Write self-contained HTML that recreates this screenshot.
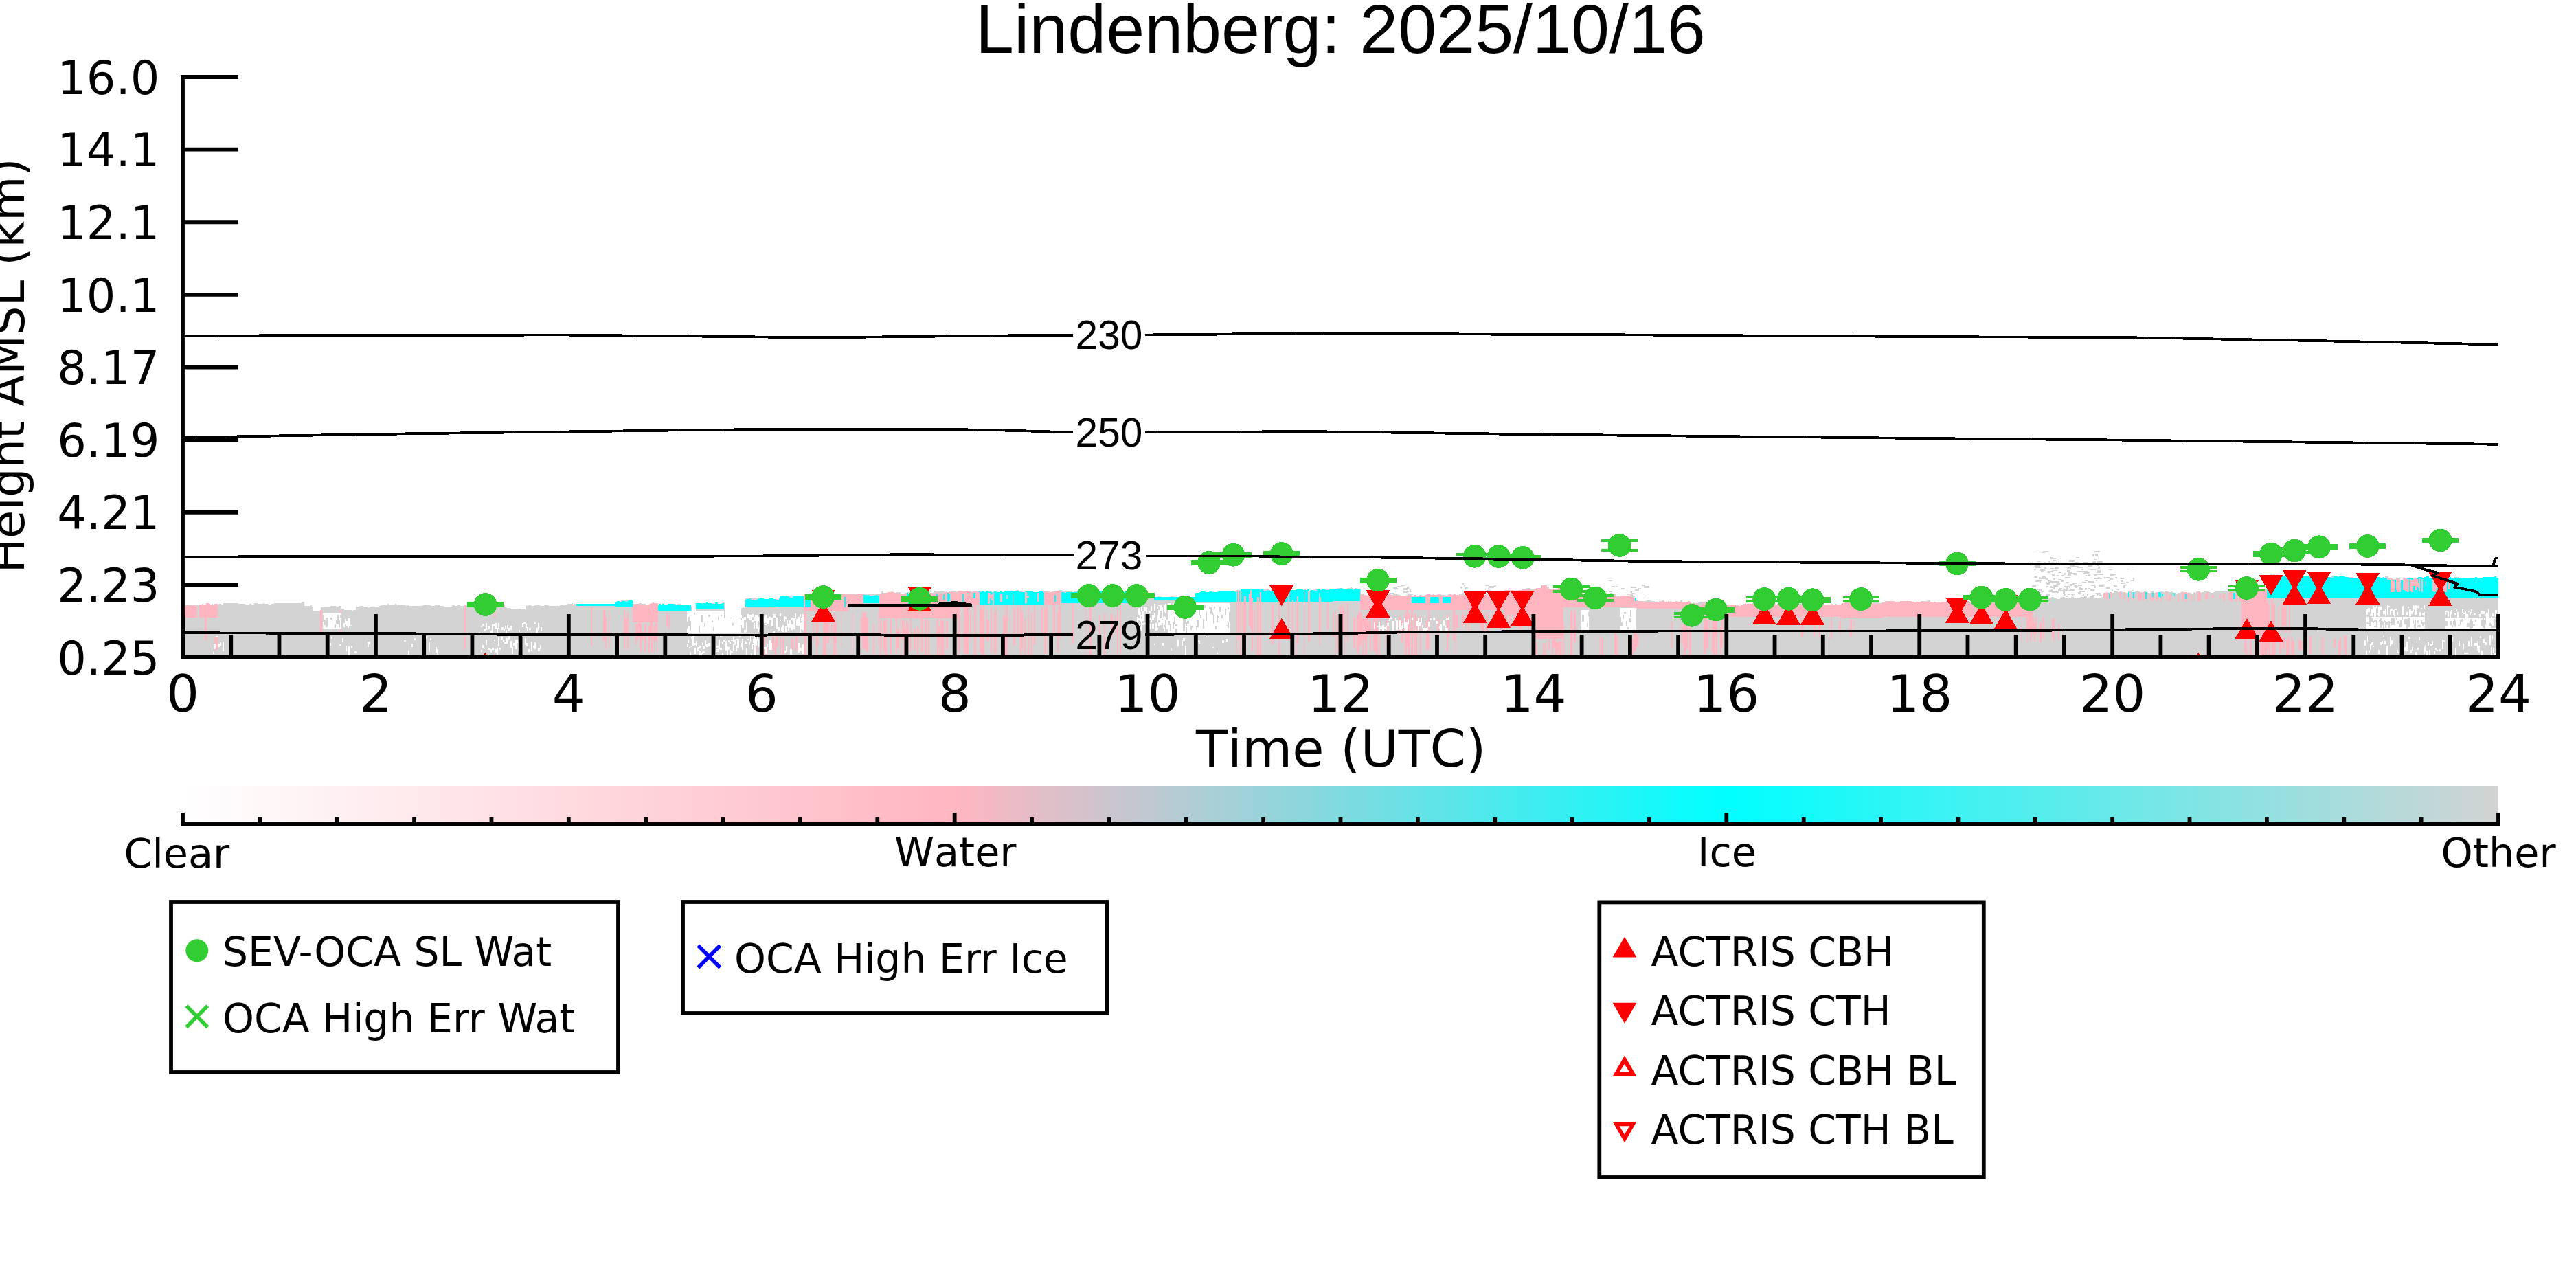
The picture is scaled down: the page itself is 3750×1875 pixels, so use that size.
<!DOCTYPE html>
<html><head><meta charset="utf-8"><title>Lindenberg: 2025/10/16</title>
<style>html,body{margin:0;padding:0;background:#fff;overflow:hidden}svg{display:block}text{font-kerning:none}</style>
</head><body>
<svg width="3750" height="1875" viewBox="0 0 3750 1875">
<rect width="3750" height="1875" fill="#fff"/>
<text x="1420" y="77" font-family="'Liberation Sans', Arial, sans-serif" font-size="100.6">Lindenberg: 2025/10/16</text>
<defs><clipPath id="axclip"><rect x="266" y="112" width="3371" height="845"/></clipPath></defs>
<g clip-path="url(#axclip)" shape-rendering="crispEdges">
<path d="M266,880 L268,880 L268,880 L271,880 L271,880 L274,880 L274,881 L276,881 L276,881 L282,881 L282,880 L288,880 L288,881 L290,881 L290,882 L292,882 L292,882 L294,882 L294,882 L296,882 L296,881 L302,881 L302,880 L308,880 L308,879 L310,879 L310,881 L312,881 L312,881 L316,881 L316,880 L318,880 L318,879 L320,879 L320,879 L322,879 L322,880 L325,880 L325,878 L329,878 L329,878 L333,878 L333,878 L337,878 L337,878 L343,878 L343,878 L347,878 L347,879 L351,879 L351,879 L357,879 L357,880 L363,880 L363,879 L366,879 L366,880 L368,880 L368,880 L370,880 L370,878 L376,878 L376,879 L380,879 L380,879 L383,879 L383,878 L385,878 L385,879 L387,879 L387,879 L391,879 L391,880 L395,880 L395,879 L399,879 L399,878 L402,878 L402,878 L408,878 L408,878 L414,878 L414,878 L416,878 L416,878 L418,878 L418,878 L421,878 L421,878 L427,878 L427,878 L433,878 L433,878 L435,878 L435,878 L439,878 L439,876 L443,876 L443,882 L446,882 L446,882 L452,882 L452,881 L454,881 L454,883 L456,883 L456,890 L459,890 L459,890 L461,890 L461,890 L467,890 L467,884 L469,884 L469,884 L471,884 L471,884 L475,884 L475,884 L481,884 L481,882 L487,882 L487,882 L489,882 L489,884 L493,884 L493,882 L497,882 L497,886 L501,886 L501,888 L503,888 L503,888 L505,888 L505,888 L509,888 L509,888 L512,888 L512,890 L514,890 L514,888 L518,888 L518,883 L520,883 L520,883 L523,883 L523,882 L529,882 L529,884 L535,884 L535,885 L537,885 L537,884 L539,884 L539,883 L543,883 L543,883 L546,883 L546,884 L552,884 L552,882 L554,882 L554,881 L558,881 L558,881 L564,881 L564,879 L566,879 L566,880 L569,880 L569,880 L572,880 L572,880 L575,880 L575,879 L577,879 L577,881 L579,881 L579,881 L581,881 L581,881 L587,881 L587,881 L591,881 L591,882 L593,882 L593,881 L595,881 L595,882 L599,882 L599,882 L605,882 L605,882 L609,882 L609,882 L615,882 L615,881 L618,881 L618,880 L622,880 L622,880 L625,880 L625,881 L627,881 L627,882 L633,882 L633,880 L636,880 L636,881 L640,881 L640,882 L646,882 L646,883 L648,883 L648,883 L652,883 L652,883 L658,883 L658,881 L662,881 L662,882 L666,882 L666,881 L669,881 L669,882 L675,882 L675,882 L677,882 L677,882 L679,882 L679,881 L683,881 L683,880 L685,880 L685,880 L691,880 L691,881 L697,881 L697,881 L703,881 L703,881 L705,881 L705,881 L707,881 L707,880 L709,880 L709,882 L715,882 L715,881 L717,881 L717,881 L721,881 L721,882 L723,882 L723,883 L727,883 L727,883 L729,883 L729,881 L731,881 L731,880 L735,880 L735,884 L737,884 L737,885 L743,885 L743,886 L745,886 L745,886 L751,886 L751,886 L753,886 L753,886 L755,886 L755,886 L759,886 L759,887 L765,887 L765,881 L767,881 L767,882 L769,882 L769,881 L773,881 L773,882 L776,882 L776,882 L778,882 L778,881 L784,881 L784,881 L786,881 L786,882 L792,882 L792,880 L795,880 L795,881 L797,881 L797,881 L799,881 L799,882 L801,882 L801,882 L804,882 L804,882 L807,882 L807,882 L809,882 L809,882 L815,882 L815,880 L817,880 L817,880 L819,880 L819,881 L823,881 L823,880 L826,880 L826,879 L832,879 L832,878 L834,878 L834,880 L836,880 L836,879 L838,879 L838,880 L842,880 L842,881 L848,881 L848,880 L851,880 L851,879 L857,879 L857,881 L859,881 L859,881 L862,881 L862,881 L868,881 L868,879 L871,879 L871,879 L875,879 L875,879 L878,879 L878,879 L884,879 L884,879 L890,879 L890,881 L896,881 L896,877 L902,877 L902,875 L904,875 L904,874 L906,874 L906,874 L910,874 L910,873 L912,873 L912,873 L914,873 L914,874 L916,874 L916,876 L918,876 L918,877 L920,877 L920,876 L922,876 L922,879 L928,879 L928,879 L930,879 L930,878 L932,878 L932,878 L934,878 L934,879 L940,879 L940,880 L943,880 L943,880 L947,880 L947,879 L950,879 L950,877 L952,877 L952,880 L955,880 L955,880 L958,880 L958,882 L960,882 L960,880 L962,880 L962,880 L964,880 L964,878 L967,878 L967,881 L970,881 L970,881 L973,881 L973,881 L979,881 L979,881 L981,881 L981,879 L984,879 L984,881 L986,881 L986,879 L992,879 L992,880 L994,880 L994,880 L996,880 L996,880 L1000,880 L1000,880 L1004,880 L1004,882 L1007,882 L1007,890 L1011,890 L1011,891 L1013,891 L1013,878 L1017,878 L1017,879 L1021,879 L1021,878 L1027,878 L1027,878 L1029,878 L1029,879 L1032,879 L1032,878 L1036,878 L1036,878 L1040,878 L1040,879 L1042,879 L1042,879 L1044,879 L1044,879 L1050,879 L1050,878 L1052,878 L1052,877 L1055,877 L1055,900 L1057,900 L1057,901 L1059,901 L1059,901 L1063,901 L1063,899 L1065,899 L1065,900 L1067,900 L1067,900 L1071,900 L1071,899 L1075,899 L1075,899 L1079,899 L1079,885 L1081,885 L1081,884 L1083,884 L1083,885 L1085,885 L1085,871 L1089,871 L1089,871 L1091,871 L1091,871 L1097,871 L1097,870 L1100,870 L1100,871 L1106,871 L1106,872 L1108,872 L1108,873 L1111,873 L1111,872 L1113,872 L1113,873 L1117,873 L1117,872 L1120,872 L1120,872 L1124,872 L1124,873 L1128,873 L1128,872 L1132,872 L1132,873 L1138,873 L1138,870 L1140,870 L1140,871 L1142,871 L1142,869 L1146,869 L1146,869 L1148,869 L1148,868 L1150,868 L1150,868 L1153,868 L1153,870 L1155,870 L1155,870 L1158,870 L1158,871 L1162,871 L1162,870 L1164,870 L1164,871 L1167,871 L1167,870 L1171,870 L1171,866 L1173,866 L1173,865 L1176,865 L1176,864 L1179,864 L1179,865 L1181,865 L1181,866 L1187,866 L1187,865 L1190,865 L1190,865 L1192,865 L1192,866 L1196,866 L1196,867 L1202,867 L1202,867 L1206,867 L1206,866 L1210,866 L1210,866 L1213,866 L1213,864 L1216,864 L1216,865 L1218,865 L1218,865 L1224,865 L1224,865 L1230,865 L1230,864 L1236,864 L1236,864 L1242,864 L1242,864 L1244,864 L1244,865 L1250,865 L1250,864 L1254,864 L1254,865 L1256,865 L1256,864 L1258,864 L1258,865 L1264,865 L1264,864 L1268,864 L1268,865 L1270,865 L1270,865 L1276,865 L1276,864 L1282,864 L1282,861 L1285,861 L1285,863 L1287,863 L1287,863 L1289,863 L1289,863 L1291,863 L1291,862 L1297,862 L1297,861 L1299,861 L1299,863 L1303,863 L1303,863 L1305,863 L1305,862 L1311,862 L1311,864 L1317,864 L1317,863 L1319,863 L1319,863 L1321,863 L1321,862 L1325,862 L1325,862 L1329,862 L1329,862 L1331,862 L1331,863 L1333,863 L1333,862 L1336,862 L1336,862 L1339,862 L1339,863 L1343,863 L1343,862 L1347,862 L1347,862 L1349,862 L1349,862 L1351,862 L1351,862 L1354,862 L1354,863 L1356,863 L1356,863 L1360,863 L1360,860 L1362,860 L1362,861 L1365,861 L1365,861 L1367,861 L1367,861 L1369,861 L1369,861 L1375,861 L1375,862 L1377,862 L1377,861 L1379,861 L1379,862 L1381,862 L1381,861 L1383,861 L1383,861 L1386,861 L1386,861 L1392,861 L1392,861 L1394,861 L1394,860 L1398,860 L1398,861 L1402,861 L1402,861 L1405,861 L1405,860 L1409,860 L1409,861 L1411,861 L1411,860 L1413,860 L1413,861 L1419,861 L1419,861 L1422,861 L1422,863 L1425,863 L1425,861 L1431,861 L1431,862 L1435,862 L1435,860 L1441,860 L1441,860 L1444,860 L1444,862 L1446,862 L1446,860 L1450,860 L1450,860 L1452,860 L1452,861 L1454,861 L1454,862 L1456,862 L1456,861 L1458,861 L1458,862 L1462,862 L1462,862 L1465,862 L1465,861 L1467,861 L1467,861 L1471,861 L1471,862 L1477,862 L1477,860 L1479,860 L1479,859 L1483,859 L1483,861 L1486,861 L1486,861 L1489,861 L1489,862 L1493,862 L1493,862 L1499,862 L1499,863 L1503,863 L1503,861 L1505,861 L1505,862 L1507,862 L1507,863 L1513,863 L1513,861 L1516,861 L1516,861 L1522,861 L1522,861 L1525,861 L1525,862 L1531,862 L1531,861 L1533,861 L1533,861 L1535,861 L1535,860 L1541,860 L1541,859 L1544,859 L1544,859 L1546,859 L1546,860 L1549,860 L1549,861 L1553,861 L1553,861 L1559,861 L1559,860 L1561,860 L1561,863 L1563,863 L1563,861 L1565,861 L1565,861 L1568,861 L1568,861 L1571,861 L1571,863 L1575,863 L1575,862 L1581,862 L1581,861 L1585,861 L1585,862 L1587,862 L1587,863 L1590,863 L1590,864 L1592,864 L1592,864 L1594,864 L1594,863 L1600,863 L1600,862 L1606,862 L1606,862 L1608,862 L1608,862 L1612,862 L1612,863 L1614,863 L1614,862 L1616,862 L1616,862 L1618,862 L1618,863 L1621,863 L1621,863 L1623,863 L1623,864 L1625,864 L1625,862 L1631,862 L1631,863 L1633,863 L1633,862 L1639,862 L1639,861 L1641,861 L1641,860 L1643,860 L1643,860 L1647,860 L1647,861 L1649,861 L1649,862 L1651,862 L1651,869 L1655,869 L1655,871 L1657,871 L1657,871 L1659,871 L1659,871 L1665,871 L1665,872 L1671,872 L1671,870 L1674,870 L1674,871 L1680,871 L1680,870 L1683,870 L1683,869 L1685,869 L1685,868 L1687,868 L1687,868 L1690,868 L1690,869 L1696,869 L1696,869 L1700,869 L1700,870 L1703,870 L1703,868 L1709,868 L1709,869 L1715,869 L1715,869 L1717,869 L1717,868 L1721,868 L1721,869 L1727,869 L1727,869 L1733,869 L1733,869 L1735,869 L1735,870 L1741,870 L1741,863 L1744,863 L1744,863 L1750,863 L1750,863 L1756,863 L1756,863 L1758,863 L1758,864 L1761,864 L1761,863 L1763,863 L1763,864 L1766,864 L1766,861 L1768,861 L1768,862 L1771,862 L1771,863 L1774,863 L1774,863 L1778,863 L1778,863 L1781,863 L1781,863 L1784,863 L1784,861 L1787,861 L1787,861 L1793,861 L1793,860 L1796,860 L1796,862 L1798,862 L1798,861 L1800,861 L1800,859 L1806,859 L1806,858 L1810,858 L1810,859 L1812,859 L1812,860 L1818,860 L1818,860 L1820,860 L1820,859 L1824,859 L1824,858 L1827,858 L1827,857 L1831,857 L1831,857 L1837,857 L1837,858 L1839,858 L1839,858 L1842,858 L1842,858 L1844,858 L1844,857 L1846,857 L1846,858 L1848,858 L1848,859 L1851,859 L1851,859 L1857,859 L1857,860 L1861,860 L1861,859 L1867,859 L1867,859 L1869,859 L1869,860 L1871,860 L1871,859 L1877,859 L1877,860 L1879,860 L1879,859 L1883,859 L1883,860 L1889,860 L1889,859 L1893,859 L1893,860 L1896,860 L1896,859 L1898,859 L1898,858 L1901,858 L1901,860 L1903,860 L1903,860 L1907,860 L1907,859 L1913,859 L1913,858 L1915,858 L1915,857 L1917,857 L1917,858 L1923,858 L1923,859 L1927,859 L1927,858 L1929,858 L1929,857 L1931,857 L1931,857 L1934,857 L1934,857 L1936,857 L1936,858 L1942,858 L1942,857 L1944,857 L1944,858 L1946,858 L1946,856 L1952,856 L1952,856 L1955,856 L1955,857 L1961,857 L1961,856 L1963,856 L1963,856 L1966,856 L1966,855 L1968,855 L1968,856 L1970,856 L1970,857 L1972,857 L1972,856 L1975,856 L1975,857 L1981,857 L1981,865 L1984,865 L1984,864 L1986,864 L1986,866 L1990,866 L1990,867 L1992,867 L1992,868 L1994,868 L1994,868 L1996,868 L1996,868 L1998,868 L1998,868 L2001,868 L2001,866 L2003,866 L2003,867 L2007,867 L2007,866 L2010,866 L2010,866 L2012,866 L2012,865 L2015,865 L2015,866 L2017,866 L2017,865 L2019,865 L2019,865 L2023,865 L2023,864 L2025,864 L2025,866 L2029,866 L2029,867 L2032,867 L2032,867 L2035,867 L2035,866 L2039,866 L2039,867 L2041,867 L2041,867 L2047,867 L2047,866 L2050,866 L2050,866 L2052,866 L2052,866 L2055,866 L2055,867 L2058,867 L2058,867 L2062,867 L2062,867 L2065,867 L2065,867 L2068,867 L2068,866 L2070,866 L2070,867 L2073,867 L2073,867 L2075,867 L2075,866 L2078,866 L2078,866 L2084,866 L2084,867 L2086,867 L2086,865 L2088,865 L2088,866 L2092,866 L2092,865 L2096,865 L2096,864 L2098,864 L2098,866 L2101,866 L2101,866 L2105,866 L2105,867 L2111,867 L2111,868 L2113,868 L2113,866 L2115,866 L2115,866 L2121,866 L2121,866 L2124,866 L2124,864 L2126,864 L2126,865 L2128,865 L2128,865 L2132,865 L2132,865 L2138,865 L2138,865 L2142,865 L2142,865 L2145,865 L2145,866 L2147,866 L2147,866 L2149,866 L2149,866 L2153,866 L2153,867 L2155,867 L2155,867 L2157,867 L2157,868 L2159,868 L2159,867 L2163,867 L2163,865 L2165,865 L2165,864 L2168,864 L2168,865 L2171,865 L2171,864 L2175,864 L2175,866 L2177,866 L2177,865 L2183,865 L2183,864 L2187,864 L2187,865 L2189,865 L2189,865 L2195,865 L2195,861 L2199,861 L2199,859 L2201,859 L2201,861 L2207,861 L2207,861 L2209,861 L2209,860 L2213,860 L2213,859 L2215,859 L2215,859 L2217,859 L2217,858 L2220,858 L2220,857 L2222,857 L2222,856 L2225,856 L2225,856 L2228,856 L2228,858 L2232,858 L2232,858 L2238,858 L2238,858 L2244,858 L2244,857 L2247,857 L2247,853 L2249,853 L2249,853 L2251,853 L2251,854 L2255,854 L2255,857 L2257,857 L2257,857 L2261,857 L2261,858 L2263,858 L2263,859 L2265,859 L2265,859 L2267,859 L2267,859 L2269,859 L2269,858 L2273,858 L2273,858 L2275,858 L2275,868 L2277,868 L2277,868 L2279,868 L2279,868 L2281,868 L2281,867 L2283,867 L2283,869 L2285,869 L2285,870 L2291,870 L2291,869 L2297,869 L2297,870 L2301,870 L2301,869 L2303,869 L2303,868 L2305,868 L2305,868 L2307,868 L2307,868 L2311,868 L2311,869 L2313,869 L2313,868 L2317,868 L2317,867 L2319,867 L2319,869 L2321,869 L2321,867 L2325,867 L2325,869 L2331,869 L2331,870 L2337,870 L2337,869 L2341,869 L2341,868 L2343,868 L2343,867 L2346,867 L2346,867 L2352,867 L2352,869 L2354,869 L2354,869 L2356,869 L2356,867 L2360,867 L2360,868 L2364,868 L2364,867 L2367,867 L2367,869 L2369,869 L2369,869 L2372,869 L2372,867 L2374,867 L2374,868 L2376,868 L2376,868 L2378,868 L2378,869 L2380,869 L2380,874 L2382,874 L2382,873 L2384,873 L2384,875 L2386,875 L2386,875 L2389,875 L2389,875 L2395,875 L2395,875 L2397,875 L2397,874 L2403,874 L2403,875 L2409,875 L2409,876 L2413,876 L2413,877 L2415,877 L2415,875 L2419,875 L2419,874 L2421,874 L2421,874 L2423,874 L2423,876 L2425,876 L2425,876 L2429,876 L2429,876 L2431,876 L2431,875 L2433,875 L2433,876 L2439,876 L2439,875 L2442,875 L2442,876 L2446,876 L2446,874 L2449,874 L2449,876 L2455,876 L2455,876 L2461,876 L2461,878 L2464,878 L2464,877 L2466,877 L2466,878 L2472,878 L2472,877 L2474,877 L2474,876 L2478,876 L2478,876 L2482,876 L2482,876 L2484,876 L2484,878 L2487,878 L2487,879 L2491,879 L2491,879 L2497,879 L2497,879 L2499,879 L2499,877 L2505,877 L2505,879 L2511,879 L2511,880 L2514,880 L2514,880 L2516,880 L2516,881 L2518,881 L2518,882 L2524,882 L2524,881 L2527,881 L2527,881 L2529,881 L2529,882 L2535,882 L2535,880 L2537,880 L2537,879 L2543,879 L2543,879 L2549,879 L2549,879 L2551,879 L2551,878 L2554,878 L2554,879 L2557,879 L2557,880 L2560,880 L2560,881 L2562,881 L2562,880 L2565,880 L2565,879 L2567,879 L2567,881 L2571,881 L2571,881 L2573,881 L2573,879 L2575,879 L2575,880 L2579,880 L2579,880 L2581,880 L2581,880 L2587,880 L2587,880 L2593,880 L2593,881 L2596,881 L2596,879 L2598,879 L2598,881 L2601,881 L2601,880 L2603,880 L2603,879 L2605,879 L2605,880 L2609,880 L2609,879 L2611,879 L2611,880 L2615,880 L2615,881 L2617,881 L2617,879 L2623,879 L2623,880 L2626,880 L2626,880 L2628,880 L2628,879 L2634,879 L2634,879 L2640,879 L2640,880 L2642,880 L2642,879 L2644,879 L2644,881 L2646,881 L2646,880 L2652,880 L2652,878 L2654,878 L2654,879 L2656,879 L2656,880 L2658,880 L2658,880 L2661,880 L2661,880 L2665,880 L2665,879 L2667,879 L2667,879 L2669,879 L2669,880 L2671,880 L2671,879 L2674,879 L2674,880 L2676,880 L2676,881 L2678,881 L2678,880 L2681,880 L2681,879 L2687,879 L2687,877 L2689,877 L2689,878 L2695,878 L2695,877 L2698,877 L2698,878 L2702,878 L2702,877 L2705,877 L2705,877 L2707,877 L2707,876 L2713,876 L2713,876 L2717,876 L2717,877 L2720,877 L2720,878 L2726,878 L2726,877 L2729,877 L2729,877 L2732,877 L2732,877 L2734,877 L2734,876 L2736,876 L2736,878 L2738,878 L2738,877 L2741,877 L2741,877 L2744,877 L2744,875 L2750,875 L2750,877 L2752,877 L2752,876 L2756,876 L2756,877 L2758,877 L2758,877 L2764,877 L2764,877 L2766,877 L2766,877 L2768,877 L2768,877 L2771,877 L2771,876 L2773,876 L2773,877 L2779,877 L2779,876 L2782,876 L2782,877 L2784,877 L2784,878 L2788,878 L2788,877 L2791,877 L2791,877 L2794,877 L2794,876 L2796,876 L2796,875 L2802,875 L2802,875 L2804,875 L2804,875 L2806,875 L2806,874 L2810,874 L2810,876 L2814,876 L2814,877 L2816,877 L2816,877 L2818,877 L2818,877 L2820,877 L2820,878 L2826,878 L2826,876 L2828,876 L2828,876 L2834,876 L2834,877 L2840,877 L2840,876 L2843,876 L2843,876 L2846,876 L2846,875 L2849,875 L2849,876 L2852,876 L2852,875 L2856,875 L2856,877 L2858,877 L2858,875 L2860,875 L2860,876 L2862,876 L2862,876 L2865,876 L2865,876 L2871,876 L2871,875 L2877,875 L2877,876 L2883,876 L2883,875 L2887,875 L2887,876 L2890,876 L2890,876 L2893,876 L2893,877 L2896,877 L2896,878 L2898,878 L2898,876 L2900,876 L2900,876 L2902,876 L2902,876 L2906,876 L2906,877 L2910,877 L2910,876 L2916,876 L2916,875 L2920,875 L2920,876 L2926,876 L2926,875 L2928,875 L2928,877 L2932,877 L2932,876 L2938,876 L2938,877 L2942,877 L2942,876 L2944,876 L2944,875 L2946,875 L2946,874 L2952,874 L2952,875 L2955,875 L2955,871 L2961,871 L2961,871 L2965,871 L2965,870 L2967,870 L2967,868 L2969,868 L2969,868 L2971,868 L2971,870 L2973,870 L2973,870 L2975,870 L2975,871 L2977,871 L2977,871 L2981,871 L2981,871 L2984,871 L2984,870 L2986,870 L2986,869 L2990,869 L2990,870 L2992,870 L2992,871 L2994,871 L2994,872 L2996,872 L2996,872 L2999,872 L2999,870 L3001,870 L3001,869 L3005,869 L3005,870 L3011,870 L3011,870 L3013,870 L3013,871 L3015,871 L3015,869 L3019,869 L3019,871 L3023,871 L3023,870 L3025,870 L3025,870 L3028,870 L3028,869 L3031,869 L3031,869 L3034,869 L3034,870 L3037,870 L3037,871 L3039,871 L3039,869 L3041,869 L3041,870 L3043,870 L3043,870 L3049,870 L3049,871 L3053,871 L3053,871 L3055,871 L3055,870 L3059,870 L3059,869 L3063,869 L3063,863 L3066,863 L3066,862 L3069,862 L3069,863 L3071,863 L3071,863 L3077,863 L3077,861 L3083,861 L3083,862 L3086,862 L3086,860 L3089,860 L3089,862 L3092,862 L3092,862 L3094,862 L3094,863 L3098,863 L3098,861 L3100,861 L3100,861 L3104,861 L3104,862 L3108,862 L3108,861 L3111,861 L3111,861 L3115,861 L3115,862 L3117,862 L3117,862 L3119,862 L3119,863 L3121,863 L3121,861 L3124,861 L3124,862 L3127,862 L3127,863 L3131,863 L3131,861 L3135,861 L3135,863 L3137,863 L3137,863 L3139,863 L3139,862 L3145,862 L3145,861 L3149,861 L3149,862 L3152,862 L3152,861 L3155,861 L3155,861 L3157,861 L3157,862 L3160,862 L3160,861 L3162,861 L3162,862 L3164,862 L3164,863 L3166,863 L3166,863 L3168,863 L3168,864 L3170,864 L3170,863 L3174,863 L3174,862 L3176,862 L3176,861 L3178,861 L3178,862 L3184,862 L3184,863 L3190,863 L3190,864 L3193,864 L3193,863 L3197,863 L3197,861 L3203,861 L3203,863 L3205,863 L3205,862 L3208,862 L3208,861 L3212,861 L3212,860 L3216,860 L3216,862 L3218,862 L3218,863 L3222,863 L3222,862 L3224,862 L3224,861 L3230,861 L3230,861 L3236,861 L3236,861 L3240,861 L3240,861 L3242,861 L3242,861 L3244,861 L3244,861 L3248,861 L3248,861 L3251,861 L3251,861 L3255,861 L3255,861 L3257,861 L3257,862 L3259,862 L3259,862 L3261,862 L3261,862 L3263,862 L3263,859 L3265,859 L3265,859 L3271,859 L3271,857 L3275,857 L3275,857 L3277,857 L3277,859 L3280,859 L3280,859 L3282,859 L3282,858 L3286,858 L3286,857 L3289,857 L3289,857 L3291,857 L3291,857 L3293,857 L3293,857 L3297,857 L3297,857 L3299,857 L3299,857 L3305,857 L3305,836 L3307,836 L3307,837 L3309,837 L3309,836 L3312,836 L3312,838 L3314,838 L3314,836 L3316,836 L3316,839 L3322,839 L3322,840 L3325,840 L3325,838 L3329,838 L3329,839 L3333,839 L3333,839 L3339,839 L3339,839 L3342,839 L3342,839 L3344,839 L3344,838 L3346,838 L3346,838 L3349,838 L3349,838 L3351,838 L3351,838 L3357,838 L3357,839 L3361,839 L3361,837 L3365,837 L3365,836 L3368,836 L3368,836 L3370,836 L3370,837 L3372,837 L3372,839 L3376,839 L3376,838 L3378,838 L3378,838 L3380,838 L3380,837 L3386,837 L3386,840 L3392,840 L3392,840 L3394,840 L3394,839 L3400,839 L3400,838 L3404,838 L3404,838 L3407,838 L3407,840 L3411,840 L3411,840 L3415,840 L3415,841 L3419,841 L3419,840 L3422,840 L3422,840 L3426,840 L3426,841 L3430,841 L3430,841 L3433,841 L3433,839 L3435,839 L3435,841 L3437,841 L3437,840 L3440,840 L3440,840 L3442,840 L3442,841 L3446,841 L3446,840 L3449,840 L3449,841 L3451,841 L3451,839 L3453,839 L3453,840 L3455,840 L3455,839 L3458,839 L3458,840 L3462,840 L3462,841 L3464,841 L3464,841 L3470,841 L3470,841 L3472,841 L3472,839 L3474,839 L3474,839 L3477,839 L3477,841 L3479,841 L3479,841 L3482,841 L3482,843 L3488,843 L3488,842 L3494,842 L3494,844 L3500,844 L3500,841 L3503,841 L3503,841 L3507,841 L3507,843 L3513,843 L3513,843 L3515,843 L3515,841 L3521,841 L3521,840 L3525,840 L3525,841 L3531,841 L3531,842 L3537,842 L3537,842 L3543,842 L3543,842 L3547,842 L3547,841 L3549,841 L3549,842 L3551,842 L3551,842 L3557,842 L3557,841 L3559,841 L3559,840 L3561,840 L3561,840 L3565,840 L3565,840 L3567,840 L3567,841 L3570,841 L3570,841 L3573,841 L3573,840 L3579,840 L3579,842 L3581,842 L3581,842 L3585,842 L3585,842 L3587,842 L3587,842 L3590,842 L3590,841 L3596,841 L3596,841 L3599,841 L3599,842 L3605,842 L3605,841 L3607,841 L3607,841 L3611,841 L3611,842 L3615,842 L3615,840 L3617,840 L3617,842 L3623,842 L3623,841 L3627,841 L3627,841 L3629,841 L3629,842 L3635,842 L3635,841 L3637,841 L3637,957 L266,957Z" fill="#d3d3d3"/>
<rect x="298.0" y="899.0" width="3.0" height="33.0" fill="#ffb6c1"/>
<rect x="466.0" y="888.0" width="3.0" height="34.0" fill="#ffb6c1"/>
<rect x="495.0" y="888.0" width="2.0" height="32.0" fill="#ffb6c1"/>
<rect x="676.0" y="880.0" width="2.0" height="66.0" fill="#ffb6c1"/>
<rect x="719.0" y="885.0" width="2.0" height="15.0" fill="#ffb6c1"/>
<rect x="312.0" y="928.0" width="5.0" height="18.0" fill="#ffb6c1"/>
<path d="M268.0,882.0 L270.0,882.0 L270.0,882.0 L273.0,882.0 L273.0,881.0 L276.0,881.0 L276.0,881.0 L279.0,881.0 L279.0,881.0 L283.0,881.0 L283.0,882.0 L287.0,882.0 L287.0,899.0 L268.0,899.0Z" fill="#ffb6c1"/>
<path d="M290.0,880.0 L294.0,880.0 L294.0,879.0 L296.0,879.0 L296.0,880.0 L300.0,880.0 L300.0,878.0 L304.0,878.0 L304.0,879.0 L306.0,879.0 L306.0,880.0 L308.0,880.0 L308.0,881.0 L312.0,881.0 L312.0,879.0 L317.0,879.0 L317.0,899.0 L290.0,899.0Z" fill="#ffb6c1"/>
<rect x="839.0" y="879.0" width="82.0" height="2.5" fill="#00ffff"/>
<path d="M896.0,876.0 L898.0,876.0 L898.0,875.0 L902.0,875.0 L902.0,876.0 L905.0,876.0 L905.0,875.0 L911.0,875.0 L911.0,876.0 L913.0,876.0 L913.0,875.0 L915.0,875.0 L915.0,874.0 L917.0,874.0 L917.0,874.0 L921.0,874.0 L921.0,884.0 L896.0,884.0Z" fill="#00ffff"/>
<path d="M921.0,880.0 L927.0,880.0 L927.0,879.0 L931.0,879.0 L931.0,880.0 L937.0,880.0 L937.0,880.0 L940.0,880.0 L940.0,881.0 L942.0,881.0 L942.0,880.0 L945.0,880.0 L945.0,879.0 L947.0,879.0 L947.0,878.0 L949.0,878.0 L949.0,878.0 L955.0,878.0 L955.0,878.0 L958.0,878.0 L958.0,906.0 L921.0,906.0Z" fill="#ffb6c1"/>
<path d="M958.0,881.0 L960.0,881.0 L960.0,879.0 L962.0,879.0 L962.0,880.0 L964.0,880.0 L964.0,879.0 L967.0,879.0 L967.0,880.0 L970.0,880.0 L970.0,880.0 L972.0,880.0 L972.0,879.0 L976.0,879.0 L976.0,879.0 L982.0,879.0 L982.0,880.0 L988.0,880.0 L988.0,881.0 L990.0,881.0 L990.0,881.0 L994.0,881.0 L994.0,881.0 L996.0,881.0 L996.0,881.0 L998.0,881.0 L998.0,880.0 L1000.0,880.0 L1000.0,881.0 L1002.0,881.0 L1002.0,881.0 L1004.0,881.0 L1004.0,880.0 L1006.0,880.0 L1006.0,889.0 L958.0,889.0Z" fill="#00ffff"/>
<path d="M1013.0,878.0 L1015.0,878.0 L1015.0,878.0 L1019.0,878.0 L1019.0,878.0 L1022.0,878.0 L1022.0,879.0 L1024.0,879.0 L1024.0,878.0 L1028.0,878.0 L1028.0,877.0 L1030.0,877.0 L1030.0,878.0 L1036.0,878.0 L1036.0,879.0 L1039.0,879.0 L1039.0,879.0 L1041.0,879.0 L1041.0,877.0 L1045.0,877.0 L1045.0,879.0 L1049.0,879.0 L1049.0,879.0 L1051.0,879.0 L1051.0,878.0 L1053.0,878.0 L1053.0,878.0 L1054.0,878.0 L1054.0,886.0 L1013.0,886.0Z" fill="#00ffff"/>
<path d="M1085.0,873.0 L1087.0,873.0 L1087.0,872.0 L1091.0,872.0 L1091.0,871.0 L1093.0,871.0 L1093.0,873.0 L1096.0,873.0 L1096.0,873.0 L1098.0,873.0 L1098.0,874.0 L1101.0,874.0 L1101.0,873.0 L1103.0,873.0 L1103.0,872.0 L1105.0,872.0 L1105.0,871.0 L1107.0,871.0 L1107.0,871.0 L1109.0,871.0 L1109.0,871.0 L1112.0,871.0 L1112.0,872.0 L1114.0,872.0 L1114.0,872.0 L1117.0,872.0 L1117.0,872.0 L1120.0,872.0 L1120.0,871.0 L1126.0,871.0 L1126.0,872.0 L1129.0,872.0 L1129.0,873.0 L1132.0,873.0 L1132.0,873.0 L1134.0,873.0 L1134.0,883.0 L1085.0,883.0Z" fill="#00ffff"/>
<path d="M1134.0,870.0 L1136.0,870.0 L1136.0,868.0 L1142.0,868.0 L1142.0,868.0 L1148.0,868.0 L1148.0,869.0 L1150.0,869.0 L1150.0,870.0 L1154.0,870.0 L1154.0,868.0 L1158.0,868.0 L1158.0,868.0 L1161.0,868.0 L1161.0,868.0 L1164.0,868.0 L1164.0,868.0 L1167.0,868.0 L1167.0,868.0 L1170.0,868.0 L1170.0,884.0 L1134.0,884.0Z" fill="#00ffff"/>
<path d="M1170.0,864.0 L1172.0,864.0 L1172.0,866.0 L1175.0,866.0 L1175.0,866.0 L1178.0,866.0 L1178.0,864.0 L1184.0,864.0 L1184.0,864.0 L1187.0,864.0 L1187.0,865.0 L1189.0,865.0 L1189.0,864.0 L1193.0,864.0 L1193.0,864.0 L1195.0,864.0 L1195.0,864.0 L1201.0,864.0 L1201.0,864.0 L1203.0,864.0 L1203.0,865.0 L1209.0,865.0 L1209.0,864.0 L1213.0,864.0 L1213.0,864.0 L1215.0,864.0 L1215.0,864.0 L1217.0,864.0 L1217.0,864.0 L1223.0,864.0 L1223.0,865.0 L1227.0,865.0 L1227.0,865.0 L1229.0,865.0 L1229.0,864.0 L1231.0,864.0 L1231.0,866.0 L1233.0,866.0 L1233.0,864.0 L1235.0,864.0 L1235.0,890.0 L1170.0,890.0Z" fill="#ffb6c1"/>
<rect x="1172.0" y="867.0" width="8.0" height="17.0" fill="#00ffff"/>
<path d="M1235.0,866.0 L1237.0,866.0 L1237.0,865.0 L1241.0,865.0 L1241.0,866.0 L1245.0,866.0 L1245.0,865.0 L1249.0,865.0 L1249.0,864.0 L1253.0,864.0 L1253.0,865.0 L1257.0,865.0 L1257.0,880.0 L1235.0,880.0Z" fill="#ffb6c1"/>
<path d="M1257.0,866.0 L1259.0,866.0 L1259.0,866.0 L1261.0,866.0 L1261.0,867.0 L1263.0,867.0 L1263.0,866.0 L1265.0,866.0 L1265.0,867.0 L1271.0,867.0 L1271.0,867.0 L1275.0,867.0 L1275.0,866.0 L1278.0,866.0 L1278.0,867.0 L1280.0,867.0 L1280.0,878.0 L1257.0,878.0Z" fill="#00ffff"/>
<path d="M1280.0,864.0 L1282.0,864.0 L1282.0,864.0 L1288.0,864.0 L1288.0,863.0 L1290.0,863.0 L1290.0,863.0 L1292.0,863.0 L1292.0,862.0 L1296.0,862.0 L1296.0,862.0 L1302.0,862.0 L1302.0,863.0 L1306.0,863.0 L1306.0,864.0 L1312.0,864.0 L1312.0,865.0 L1314.0,865.0 L1314.0,864.0 L1320.0,864.0 L1320.0,863.0 L1326.0,863.0 L1326.0,864.0 L1328.0,864.0 L1328.0,863.0 L1330.0,863.0 L1330.0,864.0 L1336.0,864.0 L1336.0,864.0 L1342.0,864.0 L1342.0,863.0 L1344.0,863.0 L1344.0,862.0 L1348.0,862.0 L1348.0,863.0 L1351.0,863.0 L1351.0,863.0 L1353.0,863.0 L1353.0,863.0 L1355.0,863.0 L1355.0,864.0 L1361.0,864.0 L1361.0,863.0 L1367.0,863.0 L1367.0,864.0 L1371.0,864.0 L1371.0,864.0 L1373.0,864.0 L1373.0,863.0 L1375.0,863.0 L1375.0,862.0 L1379.0,862.0 L1379.0,862.0 L1381.0,862.0 L1381.0,862.0 L1383.0,862.0 L1383.0,862.0 L1386.0,862.0 L1386.0,862.0 L1388.0,862.0 L1388.0,862.0 L1392.0,862.0 L1392.0,863.0 L1395.0,863.0 L1395.0,900.0 L1280.0,900.0Z" fill="#ffb6c1"/>
<path d="M1395.0,860.0 L1401.0,860.0 L1401.0,861.0 L1407.0,861.0 L1407.0,861.0 L1413.0,861.0 L1413.0,862.0 L1419.0,862.0 L1419.0,862.0 L1423.0,862.0 L1423.0,861.0 L1425.0,861.0 L1425.0,880.0 L1395.0,880.0Z" fill="#ffb6c1"/>
<path d="M1425.0,861.0 L1427.0,861.0 L1427.0,862.0 L1429.0,862.0 L1429.0,861.0 L1433.0,861.0 L1433.0,862.0 L1435.0,862.0 L1435.0,861.0 L1439.0,861.0 L1439.0,862.0 L1441.0,862.0 L1441.0,861.0 L1443.0,861.0 L1443.0,862.0 L1445.0,862.0 L1445.0,862.0 L1447.0,862.0 L1447.0,861.0 L1450.0,861.0 L1450.0,862.0 L1456.0,862.0 L1456.0,861.0 L1459.0,861.0 L1459.0,862.0 L1462.0,862.0 L1462.0,861.0 L1465.0,861.0 L1465.0,860.0 L1469.0,860.0 L1469.0,860.0 L1475.0,860.0 L1475.0,861.0 L1479.0,861.0 L1479.0,860.0 L1482.0,860.0 L1482.0,861.0 L1484.0,861.0 L1484.0,862.0 L1490.0,862.0 L1490.0,862.0 L1493.0,862.0 L1493.0,861.0 L1496.0,861.0 L1496.0,861.0 L1502.0,861.0 L1502.0,861.0 L1504.0,861.0 L1504.0,862.0 L1506.0,862.0 L1506.0,862.0 L1512.0,862.0 L1512.0,860.0 L1514.0,860.0 L1514.0,860.0 L1516.0,860.0 L1516.0,861.0 L1518.0,861.0 L1518.0,862.0 L1520.0,862.0 L1520.0,880.0 L1425.0,880.0Z" fill="#00ffff"/>
<path d="M1520.0,861.0 L1522.0,861.0 L1522.0,862.0 L1524.0,862.0 L1524.0,861.0 L1527.0,861.0 L1527.0,862.0 L1533.0,862.0 L1533.0,862.0 L1537.0,862.0 L1537.0,861.0 L1539.0,861.0 L1539.0,860.0 L1543.0,860.0 L1543.0,861.0 L1545.0,861.0 L1545.0,880.0 L1520.0,880.0Z" fill="#ffb6c1"/>
<path d="M1545.0,862.0 L1549.0,862.0 L1549.0,863.0 L1552.0,863.0 L1552.0,862.0 L1554.0,862.0 L1554.0,862.0 L1558.0,862.0 L1558.0,862.0 L1564.0,862.0 L1564.0,862.0 L1568.0,862.0 L1568.0,860.0 L1570.0,860.0 L1570.0,860.0 L1572.0,860.0 L1572.0,860.0 L1575.0,860.0 L1575.0,860.0 L1577.0,860.0 L1577.0,861.0 L1580.0,861.0 L1580.0,860.0 L1586.0,860.0 L1586.0,861.0 L1589.0,861.0 L1589.0,860.0 L1592.0,860.0 L1592.0,861.0 L1595.0,861.0 L1595.0,861.0 L1597.0,861.0 L1597.0,861.0 L1599.0,861.0 L1599.0,860.0 L1601.0,860.0 L1601.0,860.0 L1607.0,860.0 L1607.0,860.0 L1613.0,860.0 L1613.0,861.0 L1616.0,861.0 L1616.0,862.0 L1619.0,862.0 L1619.0,862.0 L1621.0,862.0 L1621.0,862.0 L1623.0,862.0 L1623.0,862.0 L1629.0,862.0 L1629.0,862.0 L1633.0,862.0 L1633.0,863.0 L1635.0,863.0 L1635.0,862.0 L1637.0,862.0 L1637.0,861.0 L1641.0,861.0 L1641.0,861.0 L1643.0,861.0 L1643.0,860.0 L1649.0,860.0 L1649.0,861.0 L1650.0,861.0 L1650.0,878.0 L1545.0,878.0Z" fill="#00ffff"/>
<rect x="1680.0" y="869.0" width="60.0" height="5.0" fill="#00ffff"/>
<path d="M1740.0,863.0 L1746.0,863.0 L1746.0,862.0 L1748.0,862.0 L1748.0,861.0 L1751.0,861.0 L1751.0,861.0 L1755.0,861.0 L1755.0,862.0 L1758.0,862.0 L1758.0,862.0 L1761.0,862.0 L1761.0,861.0 L1765.0,861.0 L1765.0,862.0 L1769.0,862.0 L1769.0,862.0 L1771.0,862.0 L1771.0,862.0 L1773.0,862.0 L1773.0,861.0 L1776.0,861.0 L1776.0,861.0 L1782.0,861.0 L1782.0,861.0 L1788.0,861.0 L1788.0,861.0 L1790.0,861.0 L1790.0,861.0 L1792.0,861.0 L1792.0,861.0 L1798.0,861.0 L1798.0,862.0 L1800.0,862.0 L1800.0,876.0 L1740.0,876.0Z" fill="#00ffff"/>
<path d="M1800.0,860.0 L1803.0,860.0 L1803.0,860.0 L1806.0,860.0 L1806.0,858.0 L1812.0,858.0 L1812.0,858.0 L1818.0,858.0 L1818.0,858.0 L1822.0,858.0 L1822.0,858.0 L1828.0,858.0 L1828.0,858.0 L1834.0,858.0 L1834.0,859.0 L1836.0,859.0 L1836.0,858.0 L1839.0,858.0 L1839.0,860.0 L1845.0,860.0 L1845.0,859.0 L1847.0,859.0 L1847.0,860.0 L1853.0,860.0 L1853.0,860.0 L1855.0,860.0 L1855.0,859.0 L1859.0,859.0 L1859.0,859.0 L1863.0,859.0 L1863.0,860.0 L1865.0,860.0 L1865.0,860.0 L1868.0,860.0 L1868.0,859.0 L1872.0,859.0 L1872.0,860.0 L1874.0,860.0 L1874.0,860.0 L1876.0,860.0 L1876.0,859.0 L1879.0,859.0 L1879.0,859.0 L1885.0,859.0 L1885.0,859.0 L1887.0,859.0 L1887.0,858.0 L1891.0,858.0 L1891.0,858.0 L1897.0,858.0 L1897.0,859.0 L1901.0,859.0 L1901.0,859.0 L1903.0,859.0 L1903.0,858.0 L1906.0,858.0 L1906.0,860.0 L1909.0,860.0 L1909.0,859.0 L1913.0,859.0 L1913.0,860.0 L1917.0,860.0 L1917.0,858.0 L1919.0,858.0 L1919.0,858.0 L1922.0,858.0 L1922.0,859.0 L1924.0,859.0 L1924.0,858.0 L1926.0,858.0 L1926.0,857.0 L1929.0,857.0 L1929.0,859.0 L1935.0,859.0 L1935.0,858.0 L1940.0,858.0 L1940.0,876.0 L1800.0,876.0Z" fill="#00ffff"/>
<path d="M1940.0,857.0 L1946.0,857.0 L1946.0,857.0 L1948.0,857.0 L1948.0,857.0 L1951.0,857.0 L1951.0,856.0 L1953.0,856.0 L1953.0,857.0 L1955.0,857.0 L1955.0,858.0 L1961.0,858.0 L1961.0,858.0 L1963.0,858.0 L1963.0,858.0 L1969.0,858.0 L1969.0,859.0 L1971.0,859.0 L1971.0,857.0 L1975.0,857.0 L1975.0,858.0 L1980.0,858.0 L1980.0,875.0 L1940.0,875.0Z" fill="#00ffff"/>
<path d="M1980.0,866.0 L1986.0,866.0 L1986.0,867.0 L1992.0,867.0 L1992.0,866.0 L1995.0,866.0 L1995.0,867.0 L2001.0,867.0 L2001.0,866.0 L2003.0,866.0 L2003.0,866.0 L2007.0,866.0 L2007.0,865.0 L2013.0,865.0 L2013.0,865.0 L2015.0,865.0 L2015.0,865.0 L2018.0,865.0 L2018.0,866.0 L2020.0,866.0 L2020.0,866.0 L2022.0,866.0 L2022.0,865.0 L2024.0,865.0 L2024.0,866.0 L2026.0,866.0 L2026.0,867.0 L2029.0,867.0 L2029.0,865.0 L2035.0,865.0 L2035.0,867.0 L2039.0,867.0 L2039.0,867.0 L2045.0,867.0 L2045.0,867.0 L2047.0,867.0 L2047.0,868.0 L2049.0,868.0 L2049.0,866.0 L2051.0,866.0 L2051.0,866.0 L2053.0,866.0 L2053.0,867.0 L2055.0,867.0 L2055.0,867.0 L2058.0,867.0 L2058.0,866.0 L2062.0,866.0 L2062.0,867.0 L2064.0,867.0 L2064.0,867.0 L2066.0,867.0 L2066.0,866.0 L2068.0,866.0 L2068.0,867.0 L2070.0,867.0 L2070.0,867.0 L2072.0,867.0 L2072.0,867.0 L2074.0,867.0 L2074.0,866.0 L2077.0,866.0 L2077.0,865.0 L2083.0,865.0 L2083.0,866.0 L2086.0,866.0 L2086.0,865.0 L2088.0,865.0 L2088.0,866.0 L2092.0,866.0 L2092.0,866.0 L2094.0,866.0 L2094.0,866.0 L2096.0,866.0 L2096.0,867.0 L2098.0,867.0 L2098.0,867.0 L2100.0,867.0 L2100.0,867.0 L2103.0,867.0 L2103.0,867.0 L2107.0,867.0 L2107.0,866.0 L2109.0,866.0 L2109.0,865.0 L2113.0,865.0 L2113.0,866.0 L2115.0,866.0 L2115.0,865.0 L2119.0,865.0 L2119.0,866.0 L2125.0,866.0 L2125.0,867.0 L2128.0,867.0 L2128.0,866.0 L2134.0,866.0 L2134.0,867.0 L2137.0,867.0 L2137.0,865.0 L2139.0,865.0 L2139.0,865.0 L2143.0,865.0 L2143.0,866.0 L2146.0,866.0 L2146.0,866.0 L2148.0,866.0 L2148.0,866.0 L2152.0,866.0 L2152.0,866.0 L2155.0,866.0 L2155.0,866.0 L2157.0,866.0 L2157.0,867.0 L2159.0,867.0 L2159.0,866.0 L2165.0,866.0 L2165.0,867.0 L2169.0,867.0 L2169.0,866.0 L2171.0,866.0 L2171.0,867.0 L2177.0,867.0 L2177.0,866.0 L2181.0,866.0 L2181.0,865.0 L2183.0,865.0 L2183.0,864.0 L2185.0,864.0 L2185.0,866.0 L2189.0,866.0 L2189.0,866.0 L2190.0,866.0 L2190.0,888.0 L1980.0,888.0Z" fill="#ffb6c1"/>
<path d="M2190.0,859.0 L2196.0,859.0 L2196.0,859.0 L2200.0,859.0 L2200.0,859.0 L2204.0,859.0 L2204.0,860.0 L2210.0,860.0 L2210.0,859.0 L2214.0,859.0 L2214.0,859.0 L2216.0,859.0 L2216.0,858.0 L2222.0,858.0 L2222.0,858.0 L2226.0,858.0 L2226.0,859.0 L2229.0,859.0 L2229.0,860.0 L2233.0,860.0 L2233.0,895.0 L2190.0,895.0Z" fill="#ffb6c1"/>
<rect x="2055.0" y="869.0" width="20.0" height="9.0" fill="#00ffff"/>
<rect x="2082.0" y="869.0" width="13.0" height="9.0" fill="#00ffff"/>
<rect x="2100.0" y="869.0" width="12.0" height="9.0" fill="#00ffff"/>
<rect x="2273.0" y="870.0" width="5.0" height="8.0" fill="#00ffff"/>
<rect x="2360.0" y="870.0" width="7.0" height="8.0" fill="#00ffff"/>
<rect x="2375.0" y="870.0" width="7.0" height="8.0" fill="#00ffff"/>
<path d="M2233.0,857.0 L2236.0,857.0 L2236.0,856.0 L2242.0,856.0 L2242.0,856.0 L2246.0,856.0 L2246.0,857.0 L2248.0,857.0 L2248.0,857.0 L2251.0,857.0 L2251.0,857.0 L2253.0,857.0 L2253.0,857.0 L2255.0,857.0 L2255.0,858.0 L2258.0,858.0 L2258.0,857.0 L2264.0,857.0 L2264.0,858.0 L2266.0,858.0 L2266.0,858.0 L2268.0,858.0 L2268.0,856.0 L2271.0,856.0 L2271.0,856.0 L2273.0,856.0 L2273.0,856.0 L2275.0,856.0 L2275.0,855.0 L2276.0,855.0 L2276.0,930.0 L2233.0,930.0Z" fill="#ffb6c1"/>
<rect x="2244.0" y="852.0" width="8.0" height="5.0" fill="#ffb6c1"/>
<path d="M2276.0,867.0 L2278.0,867.0 L2278.0,867.0 L2281.0,867.0 L2281.0,869.0 L2287.0,869.0 L2287.0,869.0 L2290.0,869.0 L2290.0,868.0 L2296.0,868.0 L2296.0,869.0 L2300.0,869.0 L2300.0,869.0 L2304.0,869.0 L2304.0,869.0 L2308.0,869.0 L2308.0,870.0 L2310.0,870.0 L2310.0,870.0 L2312.0,870.0 L2312.0,868.0 L2314.0,868.0 L2314.0,869.0 L2320.0,869.0 L2320.0,867.0 L2322.0,867.0 L2322.0,868.0 L2324.0,868.0 L2324.0,868.0 L2326.0,868.0 L2326.0,869.0 L2332.0,869.0 L2332.0,868.0 L2335.0,868.0 L2335.0,868.0 L2339.0,868.0 L2339.0,869.0 L2341.0,869.0 L2341.0,868.0 L2347.0,868.0 L2347.0,868.0 L2349.0,868.0 L2349.0,867.0 L2351.0,867.0 L2351.0,868.0 L2355.0,868.0 L2355.0,867.0 L2358.0,867.0 L2358.0,867.0 L2360.0,867.0 L2360.0,867.0 L2362.0,867.0 L2362.0,867.0 L2365.0,867.0 L2365.0,867.0 L2367.0,867.0 L2367.0,867.0 L2371.0,867.0 L2371.0,867.0 L2373.0,867.0 L2373.0,867.0 L2377.0,867.0 L2377.0,867.0 L2379.0,867.0 L2379.0,867.0 L2380.0,867.0 L2380.0,884.0 L2276.0,884.0Z" fill="#ffb6c1"/>
<path d="M2380.0,875.0 L2386.0,875.0 L2386.0,875.0 L2388.0,875.0 L2388.0,876.0 L2392.0,876.0 L2392.0,877.0 L2394.0,877.0 L2394.0,876.0 L2396.0,876.0 L2396.0,877.0 L2399.0,877.0 L2399.0,877.0 L2402.0,877.0 L2402.0,877.0 L2405.0,877.0 L2405.0,877.0 L2411.0,877.0 L2411.0,877.0 L2415.0,877.0 L2415.0,876.0 L2418.0,876.0 L2418.0,876.0 L2420.0,876.0 L2420.0,875.0 L2423.0,875.0 L2423.0,877.0 L2426.0,877.0 L2426.0,877.0 L2428.0,877.0 L2428.0,875.0 L2430.0,875.0 L2430.0,877.0 L2432.0,877.0 L2432.0,877.0 L2434.0,877.0 L2434.0,876.0 L2437.0,876.0 L2437.0,876.0 L2441.0,876.0 L2441.0,876.0 L2443.0,876.0 L2443.0,876.0 L2447.0,876.0 L2447.0,877.0 L2451.0,877.0 L2451.0,877.0 L2455.0,877.0 L2455.0,876.0 L2457.0,876.0 L2457.0,875.0 L2460.0,875.0 L2460.0,886.0 L2380.0,886.0Z" fill="#ffb6c1"/>
<path d="M2460.0,877.0 L2462.0,877.0 L2462.0,879.0 L2464.0,879.0 L2464.0,878.0 L2466.0,878.0 L2466.0,879.0 L2468.0,879.0 L2468.0,879.0 L2471.0,879.0 L2471.0,880.0 L2477.0,880.0 L2477.0,880.0 L2479.0,880.0 L2479.0,878.0 L2483.0,878.0 L2483.0,877.0 L2486.0,877.0 L2486.0,876.0 L2488.0,876.0 L2488.0,877.0 L2490.0,877.0 L2490.0,878.0 L2493.0,878.0 L2493.0,878.0 L2495.0,878.0 L2495.0,878.0 L2500.0,878.0 L2500.0,895.0 L2460.0,895.0Z" fill="#ffb6c1"/>
<path d="M2500.0,880.0 L2502.0,880.0 L2502.0,881.0 L2508.0,881.0 L2508.0,881.0 L2510.0,881.0 L2510.0,880.0 L2514.0,880.0 L2514.0,881.0 L2520.0,881.0 L2520.0,880.0 L2522.0,880.0 L2522.0,880.0 L2525.0,880.0 L2525.0,880.0 L2527.0,880.0 L2527.0,881.0 L2531.0,881.0 L2531.0,882.0 L2534.0,882.0 L2534.0,880.0 L2540.0,880.0 L2540.0,879.0 L2542.0,879.0 L2542.0,879.0 L2548.0,879.0 L2548.0,879.0 L2551.0,879.0 L2551.0,879.0 L2554.0,879.0 L2554.0,880.0 L2556.0,880.0 L2556.0,880.0 L2559.0,880.0 L2559.0,880.0 L2562.0,880.0 L2562.0,879.0 L2565.0,879.0 L2565.0,879.0 L2567.0,879.0 L2567.0,878.0 L2569.0,878.0 L2569.0,880.0 L2571.0,880.0 L2571.0,881.0 L2573.0,881.0 L2573.0,881.0 L2577.0,881.0 L2577.0,880.0 L2581.0,880.0 L2581.0,879.0 L2585.0,879.0 L2585.0,880.0 L2587.0,880.0 L2587.0,879.0 L2589.0,879.0 L2589.0,879.0 L2595.0,879.0 L2595.0,881.0 L2601.0,881.0 L2601.0,881.0 L2607.0,881.0 L2607.0,882.0 L2609.0,882.0 L2609.0,880.0 L2611.0,880.0 L2611.0,881.0 L2617.0,881.0 L2617.0,881.0 L2619.0,881.0 L2619.0,880.0 L2623.0,880.0 L2623.0,880.0 L2627.0,880.0 L2627.0,879.0 L2633.0,879.0 L2633.0,879.0 L2635.0,879.0 L2635.0,880.0 L2637.0,880.0 L2637.0,880.0 L2643.0,880.0 L2643.0,881.0 L2645.0,881.0 L2645.0,882.0 L2651.0,882.0 L2651.0,881.0 L2654.0,881.0 L2654.0,880.0 L2657.0,880.0 L2657.0,881.0 L2659.0,881.0 L2659.0,881.0 L2665.0,881.0 L2665.0,881.0 L2671.0,881.0 L2671.0,880.0 L2673.0,880.0 L2673.0,880.0 L2676.0,880.0 L2676.0,880.0 L2679.0,880.0 L2679.0,881.0 L2680.0,881.0 L2680.0,898.0 L2500.0,898.0Z" fill="#ffb6c1"/>
<path d="M2680.0,879.0 L2682.0,879.0 L2682.0,878.0 L2685.0,878.0 L2685.0,877.0 L2688.0,877.0 L2688.0,877.0 L2691.0,877.0 L2691.0,877.0 L2697.0,877.0 L2697.0,878.0 L2699.0,878.0 L2699.0,878.0 L2703.0,878.0 L2703.0,878.0 L2709.0,878.0 L2709.0,877.0 L2711.0,877.0 L2711.0,878.0 L2713.0,878.0 L2713.0,877.0 L2715.0,877.0 L2715.0,877.0 L2718.0,877.0 L2718.0,878.0 L2720.0,878.0 L2720.0,879.0 L2726.0,879.0 L2726.0,878.0 L2728.0,878.0 L2728.0,879.0 L2730.0,879.0 L2730.0,879.0 L2732.0,879.0 L2732.0,879.0 L2738.0,879.0 L2738.0,879.0 L2740.0,879.0 L2740.0,900.0 L2680.0,900.0Z" fill="#ffb6c1"/>
<path d="M2740.0,877.0 L2746.0,877.0 L2746.0,875.0 L2748.0,875.0 L2748.0,876.0 L2750.0,876.0 L2750.0,875.0 L2752.0,875.0 L2752.0,875.0 L2758.0,875.0 L2758.0,876.0 L2764.0,876.0 L2764.0,877.0 L2766.0,877.0 L2766.0,875.0 L2768.0,875.0 L2768.0,875.0 L2771.0,875.0 L2771.0,875.0 L2775.0,875.0 L2775.0,875.0 L2777.0,875.0 L2777.0,875.0 L2779.0,875.0 L2779.0,875.0 L2783.0,875.0 L2783.0,876.0 L2787.0,876.0 L2787.0,877.0 L2789.0,877.0 L2789.0,876.0 L2793.0,876.0 L2793.0,876.0 L2799.0,876.0 L2799.0,876.0 L2801.0,876.0 L2801.0,876.0 L2807.0,876.0 L2807.0,876.0 L2813.0,876.0 L2813.0,877.0 L2815.0,877.0 L2815.0,876.0 L2818.0,876.0 L2818.0,877.0 L2821.0,877.0 L2821.0,877.0 L2825.0,877.0 L2825.0,876.0 L2827.0,876.0 L2827.0,876.0 L2833.0,876.0 L2833.0,875.0 L2837.0,875.0 L2837.0,875.0 L2843.0,875.0 L2843.0,875.0 L2845.0,875.0 L2845.0,875.0 L2849.0,875.0 L2849.0,874.0 L2853.0,874.0 L2853.0,875.0 L2859.0,875.0 L2859.0,876.0 L2863.0,876.0 L2863.0,875.0 L2866.0,875.0 L2866.0,876.0 L2868.0,876.0 L2868.0,877.0 L2872.0,877.0 L2872.0,876.0 L2875.0,876.0 L2875.0,875.0 L2877.0,875.0 L2877.0,876.0 L2880.0,876.0 L2880.0,875.0 L2886.0,875.0 L2886.0,875.0 L2890.0,875.0 L2890.0,875.0 L2893.0,875.0 L2893.0,876.0 L2899.0,876.0 L2899.0,876.0 L2903.0,876.0 L2903.0,877.0 L2909.0,877.0 L2909.0,876.0 L2915.0,876.0 L2915.0,876.0 L2917.0,876.0 L2917.0,876.0 L2923.0,876.0 L2923.0,875.0 L2927.0,875.0 L2927.0,876.0 L2929.0,876.0 L2929.0,875.0 L2931.0,875.0 L2931.0,875.0 L2933.0,875.0 L2933.0,875.0 L2935.0,875.0 L2935.0,876.0 L2937.0,876.0 L2937.0,877.0 L2939.0,877.0 L2939.0,876.0 L2941.0,876.0 L2941.0,876.0 L2945.0,876.0 L2945.0,876.0 L2949.0,876.0 L2949.0,875.0 L2955.0,875.0 L2955.0,898.0 L2740.0,898.0Z" fill="#ffb6c1"/>
<rect x="2950.0" y="876.0" width="10.0" height="39.0" fill="#ffb6c1"/>
<path d="M3263.0,858.0 L3266.0,858.0 L3266.0,857.0 L3268.0,857.0 L3268.0,858.0 L3272.0,858.0 L3272.0,857.0 L3278.0,857.0 L3278.0,858.0 L3280.0,858.0 L3280.0,858.0 L3282.0,858.0 L3282.0,858.0 L3284.0,858.0 L3284.0,857.0 L3287.0,857.0 L3287.0,858.0 L3289.0,858.0 L3289.0,859.0 L3295.0,859.0 L3295.0,859.0 L3298.0,859.0 L3298.0,859.0 L3300.0,859.0 L3300.0,925.0 L3263.0,925.0Z" fill="#ffb6c1"/>
<path d="M3300.0,838.0 L3302.0,838.0 L3302.0,839.0 L3308.0,839.0 L3308.0,837.0 L3311.0,837.0 L3311.0,839.0 L3313.0,839.0 L3313.0,837.0 L3316.0,837.0 L3316.0,838.0 L3318.0,838.0 L3318.0,837.0 L3322.0,837.0 L3322.0,838.0 L3328.0,838.0 L3328.0,839.0 L3330.0,839.0 L3330.0,838.0 L3332.0,838.0 L3332.0,838.0 L3338.0,838.0 L3338.0,838.0 L3341.0,838.0 L3341.0,839.0 L3343.0,839.0 L3343.0,838.0 L3345.0,838.0 L3345.0,839.0 L3349.0,839.0 L3349.0,839.0 L3355.0,839.0 L3355.0,839.0 L3361.0,839.0 L3361.0,839.0 L3363.0,839.0 L3363.0,838.0 L3367.0,838.0 L3367.0,837.0 L3370.0,837.0 L3370.0,837.0 L3374.0,837.0 L3374.0,838.0 L3376.0,838.0 L3376.0,838.0 L3382.0,838.0 L3382.0,838.0 L3385.0,838.0 L3385.0,871.0 L3300.0,871.0Z" fill="#00ffff"/>
<path d="M3385.0,840.0 L3387.0,840.0 L3387.0,840.0 L3393.0,840.0 L3393.0,841.0 L3397.0,841.0 L3397.0,839.0 L3403.0,839.0 L3403.0,840.0 L3405.0,840.0 L3405.0,839.0 L3407.0,839.0 L3407.0,839.0 L3413.0,839.0 L3413.0,840.0 L3419.0,840.0 L3419.0,841.0 L3425.0,841.0 L3425.0,841.0 L3429.0,841.0 L3429.0,841.0 L3433.0,841.0 L3433.0,841.0 L3436.0,841.0 L3436.0,840.0 L3438.0,840.0 L3438.0,839.0 L3440.0,839.0 L3440.0,840.0 L3443.0,840.0 L3443.0,839.0 L3445.0,839.0 L3445.0,839.0 L3451.0,839.0 L3451.0,839.0 L3455.0,839.0 L3455.0,839.0 L3461.0,839.0 L3461.0,840.0 L3465.0,840.0 L3465.0,841.0 L3467.0,841.0 L3467.0,841.0 L3469.0,841.0 L3469.0,840.0 L3471.0,840.0 L3471.0,841.0 L3473.0,841.0 L3473.0,841.0 L3475.0,841.0 L3475.0,871.0 L3385.0,871.0Z" fill="#00ffff"/>
<path d="M3475.0,844.0 L3478.0,844.0 L3478.0,845.0 L3481.0,845.0 L3481.0,845.0 L3483.0,845.0 L3483.0,845.0 L3489.0,845.0 L3489.0,845.0 L3493.0,845.0 L3493.0,844.0 L3499.0,844.0 L3499.0,844.0 L3500.0,844.0 L3500.0,871.0 L3475.0,871.0Z" fill="#00ffff"/>
<path d="M3500.0,841.0 L3504.0,841.0 L3504.0,841.0 L3508.0,841.0 L3508.0,842.0 L3514.0,842.0 L3514.0,842.0 L3520.0,842.0 L3520.0,840.0 L3526.0,840.0 L3526.0,841.0 L3528.0,841.0 L3528.0,840.0 L3532.0,840.0 L3532.0,839.0 L3536.0,839.0 L3536.0,841.0 L3542.0,841.0 L3542.0,842.0 L3546.0,842.0 L3546.0,841.0 L3552.0,841.0 L3552.0,840.0 L3554.0,840.0 L3554.0,840.0 L3558.0,840.0 L3558.0,840.0 L3560.0,840.0 L3560.0,841.0 L3566.0,841.0 L3566.0,840.0 L3568.0,840.0 L3568.0,841.0 L3570.0,841.0 L3570.0,841.0 L3573.0,841.0 L3573.0,841.0 L3577.0,841.0 L3577.0,841.0 L3583.0,841.0 L3583.0,841.0 L3585.0,841.0 L3585.0,841.0 L3589.0,841.0 L3589.0,842.0 L3593.0,842.0 L3593.0,842.0 L3595.0,842.0 L3595.0,841.0 L3601.0,841.0 L3601.0,841.0 L3603.0,841.0 L3603.0,840.0 L3606.0,840.0 L3606.0,841.0 L3608.0,841.0 L3608.0,842.0 L3610.0,842.0 L3610.0,841.0 L3614.0,841.0 L3614.0,840.0 L3617.0,840.0 L3617.0,840.0 L3619.0,840.0 L3619.0,840.0 L3625.0,840.0 L3625.0,840.0 L3631.0,840.0 L3631.0,839.0 L3634.0,839.0 L3634.0,841.0 L3637.0,841.0 L3637.0,871.0 L3500.0,871.0Z" fill="#00ffff"/>
<path fill="#ffb6c1" d="M860 884h2v57h-2z"/>
<path fill="#ffb6c1" d="M878 888h3v45h-3zM881 898h2v47h-2zM886 890h1v54h-1z"/>
<path fill="#ffb6c1" d="M908 888h2v57h-2zM910 900h3v22h-3zM913 892h2v53h-2z"/>
<path fill="#ffb6c1" d="M925 909h2v29h-2zM927 908h2v23h-2zM929 906h2v22h-2zM931 907h1v37h-1zM932 906h2v44h-2zM934 919h3v12h-3zM938 909h2v40h-2zM940 909h1v28h-1zM944 912h2v38h-2zM946 906h2v23h-2zM948 906h2v43h-2zM951 912h1v21h-1zM952 913h1v36h-1zM953 907h3v26h-3zM956 906h1v43h-1z"/>
<path fill="#ffb6c1" d="M970 892h2v20h-2zM973 895h2v21h-2z"/>
<path fill="#ffb6c1" d="M1101 932h1v18h-1zM1111 927h3v29h-3zM1116 928h1v28h-1zM1124 926h3v21h-3zM1128 931h2v25h-2zM1130 925h3v17h-3zM1136 927h1v24h-1zM1139 930h2v27h-2zM1141 925h1v28h-1zM1152 929h3v16h-3zM1158 926h3v21h-3z"/>
<path fill="#ffb6c1" d="M1171 891h3v64h-3zM1183 901h2v32h-2zM1188 896h1v59h-1zM1189 893h2v48h-2zM1198 895h2v62h-2zM1200 891h3v63h-3zM1203 901h1v25h-1zM1204 906h3v31h-3zM1209 908h2v22h-2zM1213 893h2v62h-2zM1215 907h2v49h-2zM1217 896h1v40h-1zM1224 893h1v48h-1zM1240 892h1v59h-1zM1253 899h2v30h-2zM1255 892h3v53h-3zM1258 891h3v54h-3zM1261 899h3v50h-3zM1271 909h2v46h-2zM1279 890h1v50h-1z"/>
<path fill="#ffb6c1" d="M1281 901h2v55h-2zM1283 906h1v39h-1zM1286 903h2v45h-2zM1288 902h3v53h-3zM1296 901h2v52h-2zM1304 900h2v52h-2zM1306 916h3v29h-3zM1311 900h1v56h-1zM1313 902h2v29h-2zM1315 902h2v55h-2zM1317 915h2v41h-2zM1319 903h2v31h-2zM1321 908h2v40h-2zM1325 900h2v48h-2zM1330 915h3v31h-3zM1335 912h2v45h-2zM1337 916h1v27h-1zM1341 900h3v49h-3zM1346 901h3v56h-3zM1351 903h2v54h-2zM1362 904h1v24h-1zM1364 901h2v56h-2zM1366 914h1v26h-1zM1367 912h1v43h-1zM1369 900h2v57h-2zM1371 903h3v53h-3zM1377 904h3v41h-3zM1391 900h2v54h-2z"/>
<path fill="#ffb6c1" d="M1395 882h2v65h-2zM1397 884h1v69h-1zM1403 880h3v71h-3zM1406 884h1v73h-1zM1407 883h3v69h-3zM1412 892h1v32h-1zM1413 880h1v54h-1zM1418 880h3v77h-3zM1426 882h3v68h-3zM1429 887h2v67h-2zM1431 881h2v74h-2zM1436 887h1v45h-1zM1437 902h3v31h-3zM1442 885h2v65h-2zM1447 891h2v64h-2zM1449 884h2v66h-2zM1460 897h2v60h-2zM1462 884h1v64h-1zM1463 898h2v56h-2zM1465 881h2v74h-2zM1470 898h1v31h-1zM1475 885h3v55h-3zM1480 881h2v47h-2zM1482 884h1v36h-1zM1485 880h2v75h-2zM1487 890h2v56h-2zM1491 900h2v55h-2zM1496 883h2v74h-2zM1501 892h2v64h-2zM1505 880h2v59h-2zM1516 884h2v43h-2zM1520 884h3v68h-3zM1523 881h2v43h-2zM1533 881h3v47h-3zM1539 891h2v59h-2zM1541 882h3v47h-3z"/>
<path fill="#ffb6c1" d="M1560 878h3v59h-3zM1580 880h1v76h-1zM1586 878h3v78h-3zM1600 896h2v60h-2zM1607 893h2v64h-2zM1617 894h3v33h-3zM1623 898h2v23h-2zM1626 889h2v65h-2zM1630 878h2v73h-2z"/>
<path fill="#ffb6c1" d="M1425 862h1v18h-1zM1438 863h3v16h-3zM1441 866h2v5h-2zM1443 865h2v9h-2zM1445 862h2v18h-2zM1456 865h3v11h-3zM1465 866h2v6h-2zM1474 865h1v14h-1zM1492 861h1v18h-1zM1493 862h2v16h-2zM1495 867h3v4h-3zM1510 863h2v13h-2z"/>
<path fill="#ffb6c1" d="M1800 859h1v92h-1zM1802 860h2v71h-2zM1805 860h2v95h-2zM1809 876h2v56h-2zM1811 868h2v89h-2zM1813 868h1v88h-1zM1818 864h2v48h-2zM1820 859h2v57h-2zM1822 871h2v77h-2zM1825 888h2v37h-2zM1830 869h3v88h-3zM1834 862h2v95h-2zM1851 879h3v59h-3zM1861 863h2v93h-2zM1875 861h2v70h-2zM1881 873h2v60h-2zM1886 874h1v80h-1zM1888 868h2v69h-2zM1898 860h1v95h-1zM1904 860h3v74h-3zM1920 863h1v77h-1zM1921 869h2v57h-2zM1932 877h2v39h-2z"/>
<path fill="#ffb6c1" d="M1940 892h2v36h-2zM1944 889h1v67h-1zM1947 896h3v54h-3zM1950 882h3v73h-3zM1954 878h1v47h-1zM1955 884h2v38h-2zM1957 891h1v65h-1zM1961 878h2v56h-2zM1970 899h3v45h-3z"/>
<path fill="#ffb6c1" d="M1975 896h2v53h-2zM1977 889h1v68h-1zM1978 889h1v68h-1zM1979 891h3v49h-3zM1982 894h1v36h-1zM1983 900h2v56h-2zM1985 901h2v30h-2zM1987 895h3v61h-3zM1990 893h2v35h-2zM1992 905h2v19h-2zM1994 888h2v59h-2zM1999 898h3v50h-3zM2002 907h1v40h-1zM2003 890h1v65h-1zM2004 890h2v65h-2zM2009 897h1v60h-1z"/>
<path fill="#ffb6c1" d="M2018 893h3v49h-3zM2036 898h3v25h-3z"/>
<path fill="#ffb6c1" d="M2040 903h3v32h-3zM2045 892h1v65h-1zM2046 895h1v58h-1zM2047 888h1v65h-1zM2048 888h2v54h-2zM2050 893h2v61h-2zM2054 888h3v68h-3zM2059 894h3v60h-3zM2062 899h1v58h-1zM2067 897h2v56h-2zM2076 903h3v43h-3zM2079 889h2v57h-2zM2092 901h3v51h-3zM2106 894h2v55h-2zM2108 899h2v29h-2zM2115 888h3v44h-3zM2118 892h1v61h-1z"/>
<path fill="#ffb6c1" d="M2120 896h3v18h-3zM2128 889h1v25h-1zM2129 895h2v15h-2zM2133 890h1v27h-1zM2137 888h2v30h-2zM2155 888h2v26h-2zM2157 895h3v26h-3zM2163 891h2v29h-2zM2166 893h1v20h-1zM2172 888h1v31h-1zM2175 894h2v14h-2zM2180 888h2v22h-2zM2184 896h3v21h-3zM2189 893h3v25h-3zM2192 895h2v18h-2zM2197 896h3v17h-3zM2203 891h3v15h-3zM2211 893h1v29h-1zM2212 888h3v28h-3zM2225 888h1v28h-1zM2227 888h1v21h-1zM2228 893h1v28h-1z"/>
<path fill="#ffb6c1" d="M2234 933h3v23h-3zM2237 938h1v15h-1zM2246 936h3v20h-3zM2250 934h1v22h-1zM2254 931h2v15h-2zM2259 932h2v21h-2zM2261 930h3v13h-3zM2264 933h3v24h-3zM2267 935h2v16h-2zM2269 932h1v15h-1zM2270 933h3v22h-3zM2275 930h1v27h-1z"/>
<path fill="#ffb6c1" d="M2277 906h1v51h-1zM2286 889h3v66h-3zM2291 887h2v47h-2zM2293 892h1v44h-1z"/>
<path fill="#ffb6c1" d="M2329 922h1v31h-1zM2331 929h3v28h-3z"/>
<path fill="#ffb6c1" d="M2350 920h2v33h-2zM2352 925h3v29h-3zM2376 930h2v26h-2zM2378 920h3v29h-3zM2381 921h1v25h-1zM2382 924h3v18h-3z"/>
<path fill="#ffb6c1" d="M2433 905h2v39h-2zM2447 909h2v28h-2zM2450 909h1v32h-1zM2451 903h3v52h-3zM2454 895h3v51h-3zM2459 896h3v59h-3zM2480 899h3v53h-3zM2483 895h2v50h-2zM2485 902h2v43h-2zM2488 899h1v29h-1zM2492 896h2v53h-2zM2494 900h3v54h-3zM2497 901h1v25h-1zM2498 900h2v53h-2zM2504 913h2v40h-2zM2506 899h2v44h-2z"/>
<path fill="#ffb6c1" d="M2622 899h2v29h-2zM2624 899h1v25h-1zM2640 901h2v26h-2zM2648 898h2v31h-2zM2665 899h2v31h-2zM2677 904h2v14h-2zM2679 898h1v27h-1zM2693 901h3v26h-3zM2699 902h1v16h-1z"/>
<path fill="#ffb6c1" d="M2942 898h1v35h-1zM2951 898h1v37h-1zM2952 901h3v19h-3zM2955 903h2v31h-2zM2957 898h1v30h-1zM2958 899h2v21h-2zM2960 899h1v24h-1zM2961 906h2v28h-2zM2963 898h2v25h-2zM2969 907h3v28h-3zM2974 898h2v32h-2zM2987 901h2v28h-2zM2989 900h2v34h-2zM2996 908h2v23h-2z"/>
<path fill="#ffb6c1" d="M3062 863h3v7h-3zM3066 863h3v10h-3zM3072 862h2v8h-2zM3085 862h2v7h-2zM3087 862h1v10h-1zM3092 862h2v11h-2zM3098 866h2v10h-2zM3103 864h2v8h-2zM3105 862h1v12h-1zM3108 864h2v6h-2zM3112 863h3v12h-3zM3115 863h3v10h-3zM3120 862h2v12h-2zM3123 862h2v9h-2zM3125 865h1v11h-1zM3130 864h2v9h-2zM3132 863h3v12h-3zM3138 862h2v13h-2zM3140 866h2v7h-2zM3145 863h2v13h-2zM3153 862h2v12h-2zM3157 865h3v10h-3zM3161 864h1v5h-1zM3170 865h2v11h-2zM3176 862h2v13h-2zM3178 863h3v8h-3zM3181 862h3v14h-3zM3184 863h2v7h-2zM3186 862h1v9h-1zM3189 866h2v9h-2zM3194 862h1v12h-1zM3199 862h3v13h-3zM3202 862h2v13h-2zM3210 864h2v9h-2zM3212 862h3v10h-3zM3220 866h3v5h-3zM3231 865h2v7h-2zM3235 865h2v5h-2zM3237 864h2v12h-2zM3244 862h3v12h-3zM3247 862h3v14h-3zM3254 864h3v12h-3zM3259 863h3v12h-3zM3262 866h1v10h-1z"/>
<path fill="#ffb6c1" d="M3267 925h2v25h-2zM3269 930h2v26h-2zM3275 925h3v29h-3zM3282 925h3v28h-3zM3290 926h3v31h-3zM3293 929h3v27h-3zM3296 925h2v27h-2zM3298 930h2v27h-2zM3300 926h2v20h-2zM3302 935h3v20h-3zM3307 929h2v25h-2zM3309 928h3v29h-3zM3312 927h1v24h-1zM3318 932h3v19h-3zM3323 928h3v17h-3zM3328 931h3v24h-3zM3331 926h2v28h-2zM3335 927h1v23h-1zM3336 928h1v23h-1zM3337 933h3v24h-3z"/>
<path fill="#ffb6c1" d="M3346 930h2v16h-2zM3348 933h3v13h-3zM3357 934h2v9h-2zM3362 926h3v26h-3zM3379 930h1v20h-1zM3380 925h1v30h-1zM3382 929h1v25h-1zM3397 930h3v13h-3zM3404 933h2v22h-2zM3406 928h1v20h-1zM3407 929h1v27h-1zM3412 925h2v21h-2zM3414 926h2v31h-2z"/>
<path fill="#ffb6c1" d="M3300 874h2v51h-2zM3302 879h2v44h-2zM3306 872h2v45h-2zM3308 871h1v50h-1zM3309 879h3v33h-3zM3316 882h1v39h-1zM3321 880h2v41h-2zM3323 883h3v28h-3zM3326 874h2v47h-2zM3328 872h1v50h-1zM3332 871h2v51h-2z"/>
<path fill="#ffb6c1" d="M3480 842h3v20h-3zM3483 846h2v16h-2zM3485 843h1v18h-1zM3488 842h1v17h-1zM3489 842h3v20h-3zM3492 844h3v18h-3zM3498 842h3v17h-3zM3501 842h3v19h-3zM3504 843h3v19h-3zM3508 843h2v18h-2zM3510 845h3v17h-3zM3513 842h3v11h-3zM3516 842h2v17h-2zM3518 843h2v11h-2zM3520 848h1v8h-1zM3521 842h2v19h-2zM3525 843h2v19h-2zM3531 846h1v8h-1zM3541 845h2v16h-2zM3543 844h2v18h-2zM3545 846h2v15h-2zM3547 846h2v10h-2zM3552 843h3v18h-3zM3555 842h2v17h-2zM3557 847h3v14h-3zM3560 847h2v15h-2zM3564 844h2v14h-2zM3566 845h1v8h-1z"/>
<path fill="#00ffff" d="M1209 870h3v7h-3zM1229 869h2v15h-2z"/>
<path fill="#00ffff" d="M1320 863h2v14h-2zM1322 864h2v16h-2zM1327 864h3v10h-3zM1341 867h1v10h-1zM1363 864h2v9h-2zM1373 865h2v8h-2zM1379 863h2v13h-2zM1381 864h2v11h-2z"/>
<path fill="#00ffff" d="M2002 866h2v9h-2zM2063 869h2v9h-2zM2066 869h1v6h-1zM2067 867h1v9h-1zM2143 866h2v12h-2z"/>
<path fill="#00ffff" d="M3070 863h1v8h-1zM3098 862h2v7h-2zM3105 862h2v9h-2zM3123 862h2v10h-2zM3133 863h2v6h-2zM3142 862h3v7h-3zM3145 863h1v7h-1zM3147 864h2v4h-2zM3163 863h1v4h-1zM3165 863h1v5h-1zM3181 864h2v8h-2zM3251 863h3v9h-3z"/>
<path fill="#00ffff" d="M1401 864h2v16h-2zM1417 863h3v8h-3z"/>
<path fill="#00ffff" d="M1535 866h2v11h-2z"/>
<rect x="470.0" y="893.0" width="27.0" height="22.0" fill="#ffffff"/>
<path fill="#d3d3d3" d="M470 895h2v10h-2zM472 902h2v8h-2zM474 899h3v14h-3zM481 899h3v3h-3zM487 909h2v5h-2zM489 903h2v5h-2zM491 895h2v14h-2zM493 903h2v10h-2zM495 896h2v3h-2z"/>
<path fill="#ffffff" d="M500 907h2v6h-2zM502 901h2v8h-2zM504 908h2v4h-2zM504 904h2v6h-2zM506 900h2v14h-2zM508 902h2v10h-2zM508 900h2v10h-2zM510 910h2v2h-2z"/>
<path fill="#ffffff" d="M310 949h1v3h-1zM311 937h3v8h-3zM314 926h3v2h-3zM318 937h2v5h-2zM320 935h2v5h-2zM324 934h2v14h-2z"/>
<path fill="#ffffff" d="M480 936h2v4h-2zM482 927h2v3h-2zM494 938h2v2h-2zM498 929h2v6h-2zM504 940h1v8h-1zM507 941h2v14h-2zM511 940h2v4h-2zM516 948h3v3h-3zM535 934h2v8h-2zM537 934h2v4h-2zM546 934h1v6h-1z"/>
<path fill="#ffffff" d="M588 932h3v2h-3zM594 947h2v6h-2zM599 937h2v5h-2zM603 929h2v3h-2zM614 948h2v5h-2zM616 931h1v10h-1zM619 926h3v4h-3zM625 935h1v14h-1zM626 929h2v3h-2zM634 942h2v8h-2zM636 945h2v8h-2z"/>
<path fill="#ffffff" d="M700 911h2v2h-2zM702 908h2v2h-2zM702 910h2v2h-2zM704 916h3v3h-3zM707 907h2v10h-2zM711 912h3v3h-3zM714 918h2v3h-2zM716 911h1v4h-1zM716 909h1v14h-1zM717 909h3v2h-3zM720 914h1v6h-1zM721 907h2v8h-2zM723 919h2v5h-2zM723 914h2v5h-2zM725 907h2v8h-2zM730 913h3v4h-3zM733 915h2v4h-2zM735 911h2v5h-2zM737 917h1v6h-1zM738 910h2v5h-2zM740 914h3v4h-3zM743 911h2v6h-2z"/>
<path fill="#ffffff" d="M755 917h2v3h-2zM760 907h2v6h-2zM762 906h3v3h-3zM765 908h2v6h-2zM767 913h2v6h-2zM770 914h3v3h-3zM773 921h2v2h-2zM777 907h1v10h-1zM778 906h2v2h-2zM780 914h3v10h-3zM783 907h2v10h-2zM787 913h2v6h-2z"/>
<path fill="#ffffff" d="M700 946h2v3h-2zM702 939h3v5h-3zM707 931h2v8h-2zM711 944h2v2h-2zM713 929h1v5h-1zM714 945h2v5h-2zM716 943h3v3h-3zM719 931h2v2h-2zM721 945h2v5h-2zM723 943h2v10h-2zM725 927h1v14h-1zM726 929h1v2h-1zM727 943h2v3h-2zM729 927h3v4h-3zM732 932h2v3h-2zM734 934h2v3h-2zM736 929h3v8h-3zM740 926h2v5h-2zM742 931h1v4h-1zM743 933h2v10h-2zM745 942h2v10h-2zM747 936h2v4h-2zM750 931h2v14h-2zM752 931h2v5h-2zM754 934h2v14h-2zM756 926h1v2h-1zM758 940h2v10h-2z"/>
<path fill="#ffffff" d="M760 926h2v2h-2zM764 929h2v10h-2zM766 936h3v5h-3zM769 945h2v4h-2zM773 934h2v14h-2zM776 940h2v3h-2zM778 935h2v10h-2zM783 944h3v4h-3zM786 939h1v6h-1z"/>
<rect x="1000.0" y="889.0" width="54.0" height="32.0" fill="#ffffff"/>
<path fill="#d3d3d3" d="M1000 905h1v10h-1zM1001 898h3v14h-3zM1004 904h2v14h-2zM1011 892h1v3h-1zM1018 911h1v10h-1zM1021 896h2v10h-2zM1025 907h1v6h-1zM1031 895h3v3h-3zM1036 903h2v3h-2zM1038 913h2v5h-2zM1045 897h1v6h-1zM1049 895h2v2h-2z"/>
<rect x="1054.0" y="900.0" width="24.0" height="21.0" fill="#ffffff"/>
<path fill="#d3d3d3" d="M1066 907h2v4h-2z"/>
<path fill="#ffffff" d="M1000 938h2v4h-2zM1002 934h1v2h-1zM1002 931h1v3h-1zM1003 942h1v2h-1zM1004 949h2v5h-2zM1006 928h2v2h-2zM1006 940h2v2h-2zM1008 926h3v14h-3zM1011 944h2v8h-2zM1011 936h2v3h-2zM1013 933h2v8h-2zM1015 942h3v6h-3zM1018 940h2v4h-2zM1018 947h2v10h-2zM1020 950h2v6h-2zM1022 949h1v3h-1zM1022 935h1v4h-1zM1023 948h3v2h-3zM1023 941h3v4h-3zM1026 932h2v8h-2zM1028 937h3v5h-3zM1031 937h3v4h-3zM1031 936h3v5h-3zM1037 931h2v8h-2zM1037 937h2v2h-2zM1039 942h2v3h-2zM1041 947h2v8h-2zM1043 945h3v4h-3zM1043 940h3v3h-3zM1046 931h2v14h-2zM1048 925h3v2h-3zM1048 943h3v3h-3zM1051 950h2v5h-2zM1051 934h2v4h-2zM1053 931h3v4h-3zM1056 933h2v14h-2zM1056 935h2v5h-2zM1058 941h2v14h-2zM1060 932h2v3h-2zM1060 942h2v4h-2zM1062 935h2v2h-2zM1062 946h2v8h-2zM1064 948h3v2h-3zM1064 931h3v2h-3zM1067 937h2v10h-2zM1067 927h2v8h-2zM1069 931h2v8h-2zM1071 940h2v8h-2zM1071 930h2v2h-2zM1073 930h3v14h-3zM1076 925h2v3h-2zM1078 936h2v6h-2zM1080 932h2v14h-2zM1080 930h2v4h-2zM1084 933h2v4h-2zM1086 934h2v3h-2zM1086 944h2v10h-2zM1088 930h2v2h-2zM1090 935h2v4h-2zM1092 926h1v8h-1zM1093 951h1v3h-1zM1094 937h2v8h-2zM1096 937h2v2h-2zM1096 930h2v6h-2zM1098 926h2v14h-2zM1098 941h2v14h-2zM1100 933h2v8h-2zM1100 930h2v10h-2zM1102 928h1v5h-1zM1103 949h1v3h-1zM1103 936h1v4h-1zM1104 932h2v10h-2zM1104 930h2v4h-2zM1106 950h2v4h-2zM1108 929h2v2h-2z"/>
<path fill="#ffffff" d="M1078 903h2v2h-2zM1078 896h2v4h-2zM1078 906h2v4h-2zM1080 900h3v14h-3zM1080 906h3v6h-3zM1080 905h3v8h-3zM1083 899h3v2h-3zM1083 917h3v4h-3zM1083 898h3v4h-3zM1086 906h2v14h-2zM1086 912h2v4h-2zM1088 894h3v6h-3zM1091 900h3v3h-3zM1091 896h3v5h-3zM1094 903h3v3h-3zM1094 894h3v4h-3zM1097 907h2v8h-2zM1097 898h2v6h-2zM1099 902h2v2h-2zM1099 895h2v8h-2zM1101 905h2v10h-2zM1101 902h2v6h-2zM1103 913h2v5h-2zM1105 909h2v8h-2zM1105 899h2v2h-2zM1107 895h2v3h-2zM1107 911h2v10h-2zM1107 912h2v6h-2zM1109 900h1v4h-1zM1109 918h1v2h-1z"/>
<path fill="#ffffff" d="M1100 905h1v6h-1zM1101 896h2v14h-2zM1101 912h2v3h-2zM1101 902h2v4h-2zM1103 918h2v2h-2zM1103 898h2v4h-2zM1103 898h2v6h-2zM1105 898h2v6h-2zM1105 901h2v6h-2zM1107 897h2v3h-2zM1107 910h2v5h-2zM1107 899h2v4h-2zM1109 903h2v14h-2zM1111 901h2v6h-2zM1111 897h2v4h-2zM1113 897h3v10h-3zM1113 895h3v8h-3zM1113 908h3v2h-3zM1116 900h3v2h-3zM1116 900h3v8h-3zM1119 915h1v6h-1zM1119 893h1v2h-1zM1120 899h2v4h-2zM1120 898h2v4h-2zM1122 915h1v2h-1zM1122 900h1v10h-1zM1122 915h1v3h-1zM1123 904h2v8h-2zM1123 899h2v6h-2zM1125 894h3v5h-3zM1125 919h3v2h-3zM1128 894h2v5h-2zM1130 899h3v5h-3zM1130 906h3v10h-3zM1130 902h3v10h-3zM1133 913h2v5h-2zM1135 902h2v2h-2zM1135 893h2v4h-2zM1137 913h2v6h-2zM1139 917h2v3h-2zM1139 910h2v8h-2zM1141 897h2v8h-2zM1143 913h2v6h-2zM1143 912h2v8h-2zM1143 898h2v3h-2zM1145 903h2v10h-2zM1147 908h2v6h-2zM1147 908h2v10h-2zM1149 903h2v5h-2zM1149 907h2v6h-2zM1149 910h2v4h-2zM1151 916h1v2h-1zM1152 912h2v5h-2zM1152 899h2v4h-2zM1152 909h2v8h-2zM1154 899h1v6h-1zM1155 908h2v8h-2zM1155 900h2v14h-2zM1155 909h2v4h-2zM1157 894h2v3h-2zM1157 893h2v8h-2zM1159 901h2v10h-2zM1161 904h1v4h-1zM1162 898h2v6h-2zM1162 903h2v8h-2zM1164 913h2v5h-2zM1164 894h2v4h-2zM1164 907h2v14h-2zM1166 899h2v5h-2zM1166 906h2v10h-2zM1168 894h2v8h-2zM1168 903h2v14h-2zM1168 905h2v6h-2z"/>
<path fill="#ffffff" d="M1104 937h3v3h-3zM1107 926h2v3h-2zM1112 942h2v3h-2zM1114 942h2v10h-2zM1116 938h2v4h-2zM1120 932h2v14h-2zM1122 936h2v10h-2zM1142 947h2v4h-2zM1144 941h2v8h-2zM1150 945h3v8h-3zM1162 936h2v14h-2zM1164 943h3v4h-3zM1168 938h2v14h-2z"/>
<path fill="#ffffff" d="M1655 878h2v6h-2zM1655 898h2v10h-2zM1655 907h2v6h-2zM1657 900h2v3h-2zM1657 908h2v8h-2zM1657 919h2v2h-2zM1657 885h2v10h-2zM1659 903h2v3h-2zM1659 913h2v3h-2zM1659 897h2v6h-2zM1659 891h2v8h-2zM1659 897h2v5h-2zM1661 901h2v14h-2zM1661 913h2v5h-2zM1661 895h2v2h-2zM1661 884h2v6h-2zM1663 890h2v6h-2zM1663 896h2v8h-2zM1663 907h2v3h-2zM1665 883h1v3h-1zM1665 895h1v4h-1zM1666 907h2v2h-2zM1666 883h2v6h-2zM1668 908h2v4h-2zM1668 896h2v14h-2zM1668 894h2v3h-2zM1668 883h2v10h-2zM1670 900h2v4h-2zM1670 898h2v2h-2zM1670 903h2v2h-2zM1672 890h3v2h-3zM1672 899h3v4h-3zM1672 908h3v8h-3zM1675 902h2v3h-2zM1675 888h2v2h-2zM1675 882h2v6h-2zM1675 901h2v5h-2zM1677 908h3v3h-3zM1677 908h3v6h-3zM1677 912h3v3h-3zM1677 895h3v8h-3zM1680 884h2v5h-2zM1680 879h2v10h-2zM1680 893h2v6h-2zM1680 892h2v3h-2zM1682 910h2v8h-2zM1682 907h2v5h-2zM1684 903h2v3h-2zM1684 883h2v3h-2zM1684 914h2v3h-2zM1684 896h2v8h-2zM1686 880h2v2h-2zM1686 906h2v6h-2zM1686 893h2v10h-2zM1686 888h2v6h-2zM1688 880h1v8h-1zM1688 913h1v6h-1zM1688 893h1v5h-1zM1688 891h1v2h-1zM1688 883h1v6h-1zM1689 900h2v10h-2zM1689 903h2v4h-2zM1689 881h2v8h-2zM1691 884h2v3h-2zM1691 903h2v4h-2zM1691 887h2v14h-2zM1693 898h2v6h-2zM1693 901h2v14h-2zM1695 913h1v6h-1zM1695 881h1v10h-1zM1695 900h1v3h-1zM1695 902h1v8h-1zM1695 897h1v6h-1zM1696 879h1v14h-1zM1696 898h1v5h-1zM1697 898h1v2h-1zM1697 894h1v10h-1zM1697 903h1v8h-1zM1697 898h1v6h-1zM1697 894h1v14h-1zM1698 902h2v10h-2zM1698 908h2v8h-2z"/>
<rect x="1700.0" y="878.0" width="90.0" height="43.0" fill="#ffffff"/>
<path fill="#d3d3d3" d="M1700 904h3v6h-3zM1703 911h2v8h-2zM1703 908h2v4h-2zM1705 878h2v10h-2zM1707 905h2v10h-2zM1709 898h2v6h-2zM1709 904h2v5h-2zM1711 909h3v3h-3zM1711 915h3v6h-3zM1714 880h2v2h-2zM1716 886h2v14h-2zM1718 887h2v3h-2zM1720 887h2v5h-2zM1722 900h3v6h-3zM1722 905h3v14h-3zM1725 898h1v10h-1zM1726 913h2v8h-2zM1726 906h2v6h-2zM1728 904h3v4h-3zM1731 887h2v5h-2zM1733 911h2v6h-2zM1735 911h2v3h-2zM1737 880h2v5h-2zM1739 879h2v5h-2zM1741 912h1v5h-1zM1742 903h3v10h-3zM1745 882h2v14h-2zM1747 896h2v4h-2zM1749 882h2v3h-2zM1751 901h2v14h-2zM1753 881h3v4h-3zM1756 890h1v14h-1zM1760 883h2v4h-2zM1762 884h2v10h-2zM1764 891h2v5h-2zM1766 894h1v14h-1zM1767 883h2v3h-2zM1769 912h2v4h-2zM1771 896h2v10h-2zM1773 897h2v2h-2zM1775 883h3v8h-3zM1778 895h2v5h-2zM1780 882h1v8h-1zM1784 886h1v10h-1zM1785 910h2v2h-2zM1787 906h2v8h-2zM1787 884h2v3h-2zM1789 891h1v14h-1z"/>
<path fill="#ffffff" d="M1680 937h1v2h-1zM1684 926h2v2h-2zM1692 936h2v4h-2zM1704 943h2v4h-2zM1710 952h1v4h-1zM1714 931h2v10h-2zM1720 932h2v8h-2zM1722 929h3v4h-3zM1725 940h2v14h-2zM1740 935h2v3h-2zM1744 932h1v3h-1zM1745 932h2v5h-2zM1765 942h2v2h-2zM1772 950h1v2h-1zM1779 932h3v4h-3zM1785 930h3v4h-3z"/>
<path fill="#ffffff" d="M2000 906h1v10h-1zM2004 911h3v2h-3zM2007 905h2v14h-2zM2009 911h3v5h-3zM2012 910h3v8h-3zM2015 913h2v2h-2zM2017 912h2v3h-2zM2017 913h2v4h-2zM2019 907h3v4h-3zM2019 907h3v2h-3zM2022 900h1v4h-1zM2023 903h1v3h-1zM2024 898h2v3h-2zM2026 899h1v2h-1zM2027 904h2v14h-2zM2031 899h1v5h-1zM2032 903h3v14h-3zM2037 903h2v14h-2zM2037 904h2v3h-2zM2039 912h2v6h-2zM2041 907h2v8h-2zM2044 900h2v14h-2zM2046 906h3v14h-3zM2046 906h3v14h-3zM2049 901h2v8h-2zM2055 899h2v4h-2zM2060 917h2v2h-2zM2062 904h2v8h-2zM2064 900h1v10h-1zM2064 904h1v14h-1zM2065 899h1v3h-1zM2066 906h2v5h-2zM2066 907h2v5h-2zM2068 899h2v8h-2zM2070 910h2v4h-2zM2072 914h2v4h-2zM2074 902h1v8h-1zM2075 914h2v6h-2zM2077 913h2v4h-2zM2079 905h2v8h-2zM2081 900h3v3h-3zM2086 899h2v4h-2zM2088 899h1v4h-1zM2091 904h3v4h-3zM2095 912h2v3h-2zM2097 909h2v10h-2zM2100 904h1v8h-1zM2101 903h2v8h-2zM2103 910h2v2h-2zM2103 911h2v8h-2zM2105 900h3v3h-3zM2105 914h3v4h-3zM2108 898h2v4h-2z"/>
<rect x="2302.0" y="888.0" width="11.0" height="30.0" fill="#ffffff"/>
<path fill="#d3d3d3" d="M2303 895h3v10h-3zM2310 907h2v6h-2zM2312 891h1v6h-1z"/>
<rect x="2358.0" y="885.0" width="24.0" height="35.0" fill="#ffffff"/>
<path fill="#d3d3d3" d="M2358 898h2v14h-2zM2360 906h2v6h-2zM2362 895h2v6h-2zM2364 891h3v3h-3zM2367 904h2v8h-2zM2369 913h2v3h-2zM2371 900h2v6h-2zM2373 888h2v10h-2zM2373 900h2v6h-2z"/>
<path fill="#ffffff" d="M3445 887h2v8h-2zM3447 885h3v6h-3zM3450 894h2v3h-2zM3452 887h2v10h-2zM3454 882h2v10h-2zM3456 884h3v14h-3zM3459 882h1v3h-1zM3460 893h2v2h-2zM3462 883h2v14h-2zM3465 883h2v5h-2zM3469 889h3v5h-3zM3472 887h1v10h-1zM3475 881h2v14h-2zM3477 882h2v2h-2zM3479 887h1v8h-1zM3480 886h3v3h-3zM3483 888h2v8h-2zM3485 887h2v10h-2zM3487 886h2v2h-2zM3489 891h2v5h-2zM3496 883h1v8h-1zM3497 882h2v14h-2zM3503 891h2v5h-2zM3505 883h2v2h-2zM3507 887h3v10h-3zM3510 889h2v5h-2zM3512 889h1v5h-1zM3513 881h1v10h-1zM3514 882h1v5h-1zM3515 881h3v14h-3zM3518 882h3v3h-3zM3521 881h1v5h-1zM3522 891h2v6h-2zM3524 885h2v2h-2zM3526 893h2v2h-2zM3528 888h1v2h-1zM3529 891h1v6h-1zM3529 881h1v5h-1z"/>
<rect x="3445.0" y="898.0" width="85.0" height="18.0" fill="#ffffff"/>
<path fill="#d3d3d3" d="M3445 906h2v2h-2zM3447 907h2v2h-2zM3449 898h2v14h-2zM3452 900h2v5h-2zM3454 904h2v3h-2zM3456 911h3v2h-3zM3456 902h3v3h-3zM3459 903h1v10h-1zM3460 900h1v14h-1zM3463 902h2v3h-2zM3465 900h2v14h-2zM3467 904h2v6h-2zM3469 905h2v10h-2zM3471 903h1v3h-1zM3472 904h2v10h-2zM3474 905h3v5h-3zM3477 904h2v10h-2zM3479 905h2v2h-2zM3481 900h3v10h-3zM3484 900h2v10h-2zM3488 899h1v3h-1zM3489 904h3v4h-3zM3489 905h3v3h-3zM3492 907h2v6h-2zM3494 903h2v10h-2zM3496 898h2v4h-2zM3500 901h3v8h-3zM3503 901h2v14h-2zM3503 905h2v8h-2zM3505 899h3v14h-3zM3512 902h2v6h-2zM3514 909h1v5h-1zM3515 902h2v14h-2zM3515 910h2v4h-2zM3519 903h2v4h-2zM3519 910h2v3h-2zM3521 910h3v3h-3zM3524 903h2v5h-2zM3526 906h2v6h-2zM3528 905h2v4h-2z"/>
<path fill="#ffffff" d="M3560 889h1v6h-1zM3561 889h2v2h-2zM3563 890h2v8h-2zM3567 890h1v10h-1zM3568 888h2v6h-2zM3572 887h1v3h-1zM3573 893h2v2h-2zM3575 887h2v3h-2zM3577 891h2v8h-2zM3584 887h2v5h-2zM3586 892h2v2h-2zM3588 890h2v10h-2zM3590 894h3v5h-3zM3593 889h2v2h-2zM3595 891h2v4h-2zM3597 887h2v6h-2zM3601 893h3v2h-3zM3609 894h2v4h-2zM3611 889h3v5h-3zM3614 890h3v4h-3zM3617 894h2v3h-2zM3619 892h3v8h-3zM3622 886h2v14h-2zM3626 898h2v2h-2zM3628 893h2v4h-2zM3632 888h3v10h-3z"/>
<rect x="3560.0" y="900.0" width="75.0" height="16.0" fill="#ffffff"/>
<path fill="#d3d3d3" d="M3560 904h3v8h-3zM3566 904h3v6h-3zM3569 910h2v3h-2zM3571 904h1v6h-1zM3572 901h2v10h-2zM3574 903h1v10h-1zM3578 910h3v2h-3zM3581 902h2v8h-2zM3583 901h2v4h-2zM3585 902h1v2h-1zM3591 903h1v10h-1zM3592 907h3v6h-3zM3595 901h3v14h-3zM3598 904h2v10h-2zM3600 909h3v2h-3zM3603 902h2v3h-2zM3611 902h3v10h-3zM3614 900h2v14h-2zM3616 902h2v14h-2zM3618 900h1v10h-1zM3623 904h1v8h-1zM3624 907h2v5h-2zM3626 909h1v5h-1zM3628 911h2v3h-2zM3630 901h1v8h-1zM3631 900h2v14h-2zM3633 902h2v4h-2z"/>
<path fill="#ffffff" d="M3442 932h2v8h-2zM3444 947h2v6h-2zM3446 926h1v8h-1zM3449 947h1v3h-1zM3450 938h1v8h-1zM3451 933h1v10h-1zM3452 935h3v4h-3zM3455 940h1v2h-1zM3462 946h2v6h-2zM3464 939h1v5h-1zM3465 935h2v4h-2zM3467 933h2v4h-2zM3469 926h1v2h-1zM3470 930h1v3h-1zM3471 933h3v5h-3zM3474 940h2v14h-2zM3479 927h2v14h-2zM3481 932h2v6h-2zM3489 946h2v5h-2zM3491 949h2v2h-2zM3493 936h3v14h-3zM3496 938h2v6h-2zM3500 942h2v5h-2zM3502 938h1v14h-1zM3503 934h3v14h-3zM3506 927h3v3h-3zM3509 946h2v5h-2zM3511 942h2v5h-2zM3515 933h1v14h-1zM3516 949h3v8h-3zM3519 943h2v3h-2zM3521 928h2v4h-2zM3528 933h1v14h-1zM3529 942h1v10h-1zM3530 939h2v10h-2zM3532 947h2v10h-2zM3534 935h2v5h-2zM3536 946h2v8h-2zM3538 938h2v3h-2zM3540 933h2v6h-2zM3543 948h2v4h-2zM3545 944h2v2h-2zM3547 946h2v2h-2zM3551 945h2v3h-2zM3555 931h2v14h-2zM3557 932h2v2h-2zM3564 950h3v5h-3zM3569 928h2v6h-2zM3574 943h2v14h-2zM3579 933h2v8h-2zM3586 937h1v8h-1zM3587 950h3v2h-3zM3590 950h3v2h-3zM3593 933h2v8h-2zM3597 927h2v14h-2zM3601 936h2v4h-2zM3603 936h3v4h-3zM3606 933h2v14h-2zM3608 940h2v10h-2zM3610 926h2v3h-2zM3612 947h2v8h-2zM3614 930h3v6h-3zM3617 935h3v4h-3zM3624 925h2v14h-2zM3626 942h2v14h-2zM3628 925h1v5h-1zM3629 943h2v8h-2zM3631 951h2v5h-2zM3633 945h2v5h-2z"/>
<path fill="#d3d3d3" d="M2045 856h5v1h-5zM2043 862h6v1h-6zM2048 854h3v3h-3zM2043 860h6v3h-6zM2030 856h5v2h-5zM2022 851h3v1h-3zM2052 858h2v3h-2zM2035 853h6v1h-6zM2040 852h5v1h-5zM2028 855h5v2h-5zM2047 861h8v1h-8zM2024 863h6v2h-6zM2043 856h6v3h-6zM2049 864h8v2h-8zM2028 864h6v3h-6zM2028 864h4v2h-4z"/>
<path fill="#d3d3d3" d="M2162 851h6v2h-6zM2167 860h3v2h-3zM2176 863h2v1h-2zM2180 862h3v1h-3zM2167 853h8v3h-8zM2177 862h3v3h-3zM2129 864h6v3h-6zM2181 862h4v1h-4zM2175 852h3v2h-3zM2131 852h2v1h-2zM2129 863h2v3h-2zM2151 860h3v1h-3zM2166 859h4v3h-4zM2126 854h3v2h-3zM2146 862h5v3h-5zM2160 863h2v2h-2zM2129 849h2v2h-2zM2165 859h2v2h-2zM2127 856h2v1h-2zM2133 855h4v2h-4zM2169 863h8v3h-8z"/>
<path fill="#d3d3d3" d="M2340 865h3v1h-3zM2373 865h4v2h-4zM2353 864h6v1h-6zM2394 867h3v1h-3zM2352 867h3v2h-3zM2356 857h3v1h-3zM2375 868h5v2h-5zM2342 860h5v2h-5zM2346 853h5v2h-5zM2333 866h6v2h-6zM2342 845h5v1h-5zM2373 861h3v2h-3zM2344 863h3v1h-3zM2393 853h8v3h-8zM2380 857h6v3h-6zM2332 860h8v2h-8zM2360 856h5v2h-5zM2374 854h8v2h-8zM2368 864h8v2h-8zM2390 851h5v2h-5zM2356 867h3v3h-3zM2370 857h5v1h-5zM2385 856h4v1h-4zM2349 865h3v2h-3zM2352 853h3v1h-3zM2375 863h5v1h-5z"/>
<path fill="#d3d3d3" d="M2978 847h2v3h-2zM3048 841h4v2h-4zM3021 818h5v1h-5zM3038 864h2v3h-2zM3027 860h8v2h-8zM3017 848h3v3h-3zM3004 864h3v3h-3zM2981 831h8v2h-8zM2996 832h5v2h-5zM3023 821h5v1h-5zM2989 813h4v1h-4zM2989 855h3v3h-3zM2963 824h6v2h-6zM2988 851h8v3h-8zM3012 815h8v3h-8zM3032 834h8v1h-8zM3052 841h8v2h-8zM3013 834h3v1h-3zM3004 825h5v1h-5zM3012 853h2v3h-2zM2986 854h2v2h-2zM3041 835h3v1h-3zM2958 852h3v3h-3zM2959 862h6v2h-6zM2996 858h4v2h-4zM3031 847h3v1h-3zM3046 817h5v3h-5zM3040 823h6v2h-6zM3040 836h3v2h-3zM2960 803h6v1h-6zM3032 847h5v1h-5zM2985 811h4v3h-4zM2962 823h8v2h-8zM2963 862h5v1h-5zM2969 845h2v3h-2zM3044 851h6v2h-6zM2973 829h4v2h-4zM3020 824h6v2h-6zM2987 836h4v3h-4zM2966 858h3v1h-3zM2968 857h5v3h-5zM3056 835h6v2h-6zM2970 864h2v2h-2zM2989 851h3v1h-3zM3056 866h4v2h-4zM3020 851h4v2h-4zM3009 826h4v2h-4zM2961 828h3v2h-3zM3025 851h6v2h-6zM3003 858h6v2h-6zM3027 854h2v2h-2zM3002 859h5v2h-5zM2993 861h4v2h-4zM2963 864h5v2h-5zM3048 836h4v2h-4zM3014 857h6v3h-6zM3048 817h3v2h-3zM2984 853h3v1h-3zM3011 859h8v2h-8zM2983 859h4v3h-4zM3010 835h5v3h-5zM3012 834h2v3h-2zM3035 856h3v3h-3zM3007 858h3v3h-3zM2972 839h6v2h-6zM2986 858h2v2h-2zM3040 846h8v2h-8zM2959 852h5v3h-5zM2961 839h5v2h-5zM3020 848h3v2h-3zM3046 807h3v3h-3zM3032 865h2v2h-2zM3023 831h8v1h-8zM3004 834h3v3h-3zM2966 844h6v2h-6zM3014 857h3v2h-3zM3034 868h4v2h-4zM3053 830h5v3h-5zM3038 834h3v2h-3zM2970 841h8v2h-8zM3040 856h3v2h-3zM2969 844h4v1h-4zM2981 845h5v3h-5zM3008 847h4v1h-4zM2989 842h3v3h-3zM3032 818h8v2h-8zM2981 844h3v2h-3zM2963 826h8v1h-8zM2971 860h4v2h-4zM3049 853h2v3h-2zM3052 832h6v2h-6zM3043 829h8v1h-8zM2986 846h2v1h-2zM2982 860h4v2h-4zM3003 861h3v3h-3zM3026 856h6v3h-6zM2992 826h5v2h-5zM3052 864h6v2h-6zM2976 818h2v1h-2zM3038 841h8v1h-8zM3007 855h3v2h-3zM3009 853h2v3h-2zM3030 828h3v2h-3zM3053 832h5v1h-5zM3022 864h2v1h-2zM3014 823h4v1h-4zM2968 840h3v3h-3zM2987 818h3v2h-3zM2970 868h6v2h-6zM3054 825h3v3h-3zM3052 866h2v1h-2zM2993 846h5v2h-5zM3048 814h4v1h-4zM3028 825h4v2h-4zM2994 849h5v3h-5zM2980 833h5v1h-5zM3034 833h8v1h-8zM3054 840h3v2h-3zM2972 804h5v1h-5zM2985 855h3v1h-3zM2963 845h8v2h-8zM2981 846h2v2h-2zM2976 825h3v3h-3zM3000 837h5v2h-5zM3049 802h8v2h-8zM3026 831h3v1h-3zM2997 856h5v2h-5zM2986 846h8v2h-8zM3019 853h6v2h-6zM3010 864h3v2h-3zM2966 862h5v1h-5zM2966 817h5v1h-5zM3014 857h4v3h-4zM3006 840h8v1h-8zM3009 830h4v2h-4zM3050 806h4v3h-4zM3042 868h6v2h-6zM3043 858h6v2h-6zM3015 834h8v2h-8zM3005 857h3v2h-3zM3015 824h6v2h-6zM2996 843h5v1h-5zM2978 842h3v2h-3zM3022 811h5v2h-5zM3035 844h5v2h-5zM3016 865h2v2h-2zM3014 850h2v3h-2zM3024 825h5v2h-5zM3051 844h2v2h-2zM2993 850h4v2h-4zM3005 853h2v2h-2zM3053 823h3v1h-3zM3046 866h4v1h-4zM2994 849h5v3h-5zM2960 863h4v2h-4zM3007 819h3v2h-3zM3031 831h8v2h-8zM2994 837h3v1h-3zM2980 848h4v3h-4zM2969 828h3v3h-3zM2999 859h5v2h-5zM3013 823h8v2h-8zM3021 854h3v2h-3zM2989 815h4v2h-4zM3027 864h2v1h-2zM2979 864h5v3h-5zM3011 833h5v2h-5zM3055 852h8v2h-8zM3019 835h4v2h-4zM3005 853h8v1h-8zM2987 830h8v1h-8zM3050 863h8v1h-8zM3000 844h4v3h-4zM3053 816h8v3h-8zM2974 838h3v1h-3zM2968 841h3v2h-3zM2982 817h2v2h-2zM2979 853h3v2h-3zM2984 827h6v2h-6zM2994 849h3v3h-3zM2993 812h5v1h-5zM3039 857h6v1h-6zM3049 812h6v1h-6zM3050 835h6v2h-6zM3013 859h5v2h-5zM3015 864h6v2h-6zM3010 826h5v3h-5zM3036 837h2v2h-2zM3007 867h3v2h-3zM3025 862h5v2h-5zM3055 836h3v1h-3zM2987 860h8v3h-8zM2966 838h2v1h-2zM2971 831h5v2h-5zM2983 846h6v1h-6zM2974 802h8v2h-8z"/>
<path fill="#d3d3d3" d="M3060 850h2v1h-2zM3090 849h4v1h-4zM3063 840h8v2h-8zM3078 851h3v1h-3zM3095 847h4v1h-4zM3103 841h2v1h-2zM3094 848h4v1h-4zM3066 854h6v3h-6zM3105 841h2v3h-2zM3086 841h6v1h-6zM3077 852h5v2h-5zM3064 841h3v1h-3zM3087 844h4v3h-4zM3070 829h5v1h-5zM3082 858h3v1h-3zM3102 844h5v2h-5zM3079 840h3v2h-3zM3099 825h6v1h-6zM3072 835h6v3h-6zM3074 858h2v2h-2zM3088 849h2v1h-2zM3086 842h6v1h-6zM3074 859h2v2h-2zM3091 852h4v1h-4zM3073 851h8v1h-8zM3069 844h2v2h-2zM3071 842h5v2h-5zM3079 854h4v1h-4zM3090 853h4v3h-4zM3076 835h4v2h-4zM3103 859h3v2h-3z"/>
</g>
<g clip-path="url(#axclip)" shape-rendering="crispEdges">
<polygon points="706.4,949.8 689.0,979.8 723.8,979.8" fill="#ff0000"/>
<polygon points="1198.5,875.2 1181.1,905.2 1215.9,905.2" fill="#ff0000"/>
<polygon points="1338.7,859.8 1321.3,889.8 1356.1,889.8" fill="#ff0000"/>
<polygon points="1865.7,899.5 1848.3,929.5 1883.1,929.5" fill="#ff0000"/>
<polygon points="2006.0,868.6 1988.6,898.6 2023.4,898.6" fill="#ff0000"/>
<polygon points="2147.3,876.8 2129.9,906.8 2164.7,906.8" fill="#ff0000"/>
<polygon points="2181.4,883.8 2164.0,913.8 2198.8,913.8" fill="#ff0000"/>
<polygon points="2216.4,881.5 2199.0,911.5 2233.8,911.5" fill="#ff0000"/>
<polygon points="2568.3,878.8 2550.9,908.8 2585.7,908.8" fill="#ff0000"/>
<polygon points="2603.7,879.5 2586.3,909.5 2621.1,909.5" fill="#ff0000"/>
<polygon points="2638.6,879.5 2621.2,909.5 2656.0,909.5" fill="#ff0000"/>
<polygon points="2849.4,876.8 2832.0,906.8 2866.8,906.8" fill="#ff0000"/>
<polygon points="2884.5,878.8 2867.1,908.8 2901.9,908.8" fill="#ff0000"/>
<polygon points="2919.7,886.5 2902.3,916.5 2937.1,916.5" fill="#ff0000"/>
<polygon points="3200.5,949.8 3183.1,979.8 3217.9,979.8" fill="#ff0000"/>
<polygon points="3270.8,900.0 3253.4,930.0 3288.2,930.0" fill="#ff0000"/>
<polygon points="3306.0,903.6 3288.6,933.6 3323.4,933.6" fill="#ff0000"/>
<polygon points="3340.2,849.5 3322.8,879.5 3357.6,879.5" fill="#ff0000"/>
<polygon points="3376.0,849.4 3358.6,879.4 3393.4,879.4" fill="#ff0000"/>
<polygon points="3446.8,849.6 3429.4,879.6 3464.2,879.6" fill="#ff0000"/>
<polygon points="3552.5,852.0 3535.1,882.0 3569.9,882.0" fill="#ff0000"/>
<polygon points="1198.5,888.8 1181.1,858.8 1215.9,858.8" fill="#ff0000"/>
<polygon points="1338.7,883.8 1321.3,853.8 1356.1,853.8" fill="#ff0000"/>
<polygon points="1865.7,882.4 1848.3,852.4 1883.1,852.4" fill="#ff0000"/>
<polygon points="2006.0,889.4 1988.6,859.4 2023.4,859.4" fill="#ff0000"/>
<polygon points="2147.3,890.0 2129.9,860.0 2164.7,860.0" fill="#ff0000"/>
<polygon points="2181.4,890.0 2164.0,860.0 2198.8,860.0" fill="#ff0000"/>
<polygon points="2216.4,890.0 2199.0,860.0 2233.8,860.0" fill="#ff0000"/>
<polygon points="2849.4,899.9 2832.0,869.9 2866.8,869.9" fill="#ff0000"/>
<polygon points="2919.7,895.5 2902.3,865.5 2937.1,865.5" fill="#ff0000"/>
<polygon points="3270.8,874.5 3253.4,844.5 3288.2,844.5" fill="#ff0000"/>
<polygon points="3306.0,867.1 3288.6,837.1 3323.4,837.1" fill="#ff0000"/>
<polygon points="3340.2,860.1 3322.8,830.1 3357.6,830.1" fill="#ff0000"/>
<polygon points="3376.0,862.1 3358.6,832.1 3393.4,832.1" fill="#ff0000"/>
<polygon points="3446.8,864.1 3429.4,834.1 3464.2,834.1" fill="#ff0000"/>
<polygon points="3552.5,862.1 3535.1,832.1 3569.9,832.1" fill="#ff0000"/>
<rect x="680.1" y="876.1" width="53" height="7.7" fill="#32cd32"/>
<circle cx="706.6" cy="880" r="16.9" fill="#32cd32"/>
<rect x="1171.8" y="865.1" width="53" height="7.7" fill="#32cd32"/>
<circle cx="1198.3" cy="869" r="16.9" fill="#32cd32"/>
<rect x="1312.2" y="867.9" width="53" height="7.7" fill="#32cd32"/>
<circle cx="1338.7" cy="871.8" r="16.9" fill="#32cd32"/>
<rect x="1558.5" y="863.1" width="53" height="7.7" fill="#32cd32"/>
<circle cx="1585" cy="867" r="16.9" fill="#32cd32"/>
<rect x="1593.4" y="863.1" width="53" height="7.7" fill="#32cd32"/>
<circle cx="1619.9" cy="867" r="16.9" fill="#32cd32"/>
<rect x="1628.3" y="863.1" width="53" height="7.7" fill="#32cd32"/>
<circle cx="1654.8" cy="867" r="16.9" fill="#32cd32"/>
<rect x="1698.7" y="880.0" width="53" height="7.7" fill="#32cd32"/>
<circle cx="1725.2" cy="883.9" r="16.9" fill="#32cd32"/>
<rect x="1733.6" y="815.1" width="53" height="7.7" fill="#32cd32"/>
<circle cx="1760.1" cy="819" r="16.9" fill="#32cd32"/>
<rect x="1769.0" y="803.9" width="53" height="7.7" fill="#32cd32"/>
<circle cx="1795.5" cy="807.8" r="16.9" fill="#32cd32"/>
<rect x="1839.2" y="802.2" width="53" height="7.7" fill="#32cd32"/>
<circle cx="1865.7" cy="806.1" r="16.9" fill="#32cd32"/>
<rect x="1979.5" y="840.8" width="53" height="7.7" fill="#32cd32"/>
<circle cx="2006" cy="844.6" r="16.9" fill="#32cd32"/>
<rect x="2120.1" y="805.3" width="53" height="3.8" fill="#32cd32"/>
<rect x="2120.1" y="810.5" width="53" height="3.8" fill="#32cd32"/>
<circle cx="2146.6" cy="809.8" r="16.9" fill="#32cd32"/>
<rect x="2155.1" y="805.5" width="53" height="3.8" fill="#32cd32"/>
<rect x="2155.1" y="810.7" width="53" height="3.8" fill="#32cd32"/>
<circle cx="2181.6" cy="810" r="16.9" fill="#32cd32"/>
<rect x="2190.3" y="807.9" width="53" height="7.7" fill="#32cd32"/>
<circle cx="2216.8" cy="811.8" r="16.9" fill="#32cd32"/>
<rect x="2261.0" y="852.0" width="53" height="3.8" fill="#32cd32"/>
<rect x="2261.0" y="859.0" width="53" height="3.8" fill="#32cd32"/>
<circle cx="2287.5" cy="857.4" r="16.9" fill="#32cd32"/>
<rect x="2295.7" y="865.1" width="53" height="3.8" fill="#32cd32"/>
<rect x="2295.7" y="871.9" width="53" height="3.8" fill="#32cd32"/>
<circle cx="2322.2" cy="870.4" r="16.9" fill="#32cd32"/>
<rect x="2331.1" y="785.0" width="53" height="3.8" fill="#32cd32"/>
<rect x="2331.1" y="799.0" width="53" height="3.8" fill="#32cd32"/>
<circle cx="2357.6" cy="793.9" r="16.9" fill="#32cd32"/>
<rect x="2436.5" y="891.3" width="53" height="3.8" fill="#32cd32"/>
<rect x="2436.5" y="896.5" width="53" height="3.8" fill="#32cd32"/>
<circle cx="2463" cy="895.8" r="16.9" fill="#32cd32"/>
<rect x="2471.5" y="883.8" width="53" height="7.7" fill="#32cd32"/>
<circle cx="2498" cy="887.6" r="16.9" fill="#32cd32"/>
<rect x="2541.8" y="867.6" width="53" height="3.8" fill="#32cd32"/>
<rect x="2541.8" y="872.8" width="53" height="3.8" fill="#32cd32"/>
<circle cx="2568.3" cy="872.1" r="16.9" fill="#32cd32"/>
<rect x="2577.2" y="867.3" width="53" height="3.8" fill="#32cd32"/>
<rect x="2577.2" y="872.5" width="53" height="3.8" fill="#32cd32"/>
<circle cx="2603.7" cy="871.8" r="16.9" fill="#32cd32"/>
<rect x="2612.1" y="868.8" width="53" height="3.8" fill="#32cd32"/>
<rect x="2612.1" y="874.0" width="53" height="3.8" fill="#32cd32"/>
<circle cx="2638.6" cy="873.3" r="16.9" fill="#32cd32"/>
<rect x="2682.8" y="867.6" width="53" height="3.8" fill="#32cd32"/>
<rect x="2682.8" y="872.8" width="53" height="3.8" fill="#32cd32"/>
<circle cx="2709.3" cy="872.1" r="16.9" fill="#32cd32"/>
<rect x="2822.6" y="816.6" width="53" height="7.7" fill="#32cd32"/>
<circle cx="2849.1" cy="820.5" r="16.9" fill="#32cd32"/>
<rect x="2858.0" y="865.6" width="53" height="7.7" fill="#32cd32"/>
<circle cx="2884.5" cy="869.5" r="16.9" fill="#32cd32"/>
<rect x="2893.2" y="869.0" width="53" height="7.7" fill="#32cd32"/>
<circle cx="2919.7" cy="872.9" r="16.9" fill="#32cd32"/>
<rect x="2928.6" y="868.1" width="53" height="3.8" fill="#32cd32"/>
<rect x="2928.6" y="873.3" width="53" height="3.8" fill="#32cd32"/>
<circle cx="2955.1" cy="872.6" r="16.9" fill="#32cd32"/>
<rect x="3174.0" y="824.3" width="53" height="3.8" fill="#32cd32"/>
<rect x="3174.0" y="829.5" width="53" height="3.8" fill="#32cd32"/>
<circle cx="3200.5" cy="828.8" r="16.9" fill="#32cd32"/>
<rect x="3244.3" y="851.5" width="53" height="3.8" fill="#32cd32"/>
<rect x="3244.3" y="856.7" width="53" height="3.8" fill="#32cd32"/>
<circle cx="3270.8" cy="856" r="16.9" fill="#32cd32"/>
<rect x="3279.6" y="802.1" width="53" height="3.8" fill="#32cd32"/>
<rect x="3279.6" y="807.3" width="53" height="3.8" fill="#32cd32"/>
<circle cx="3306.1" cy="806.6" r="16.9" fill="#32cd32"/>
<rect x="3313.7" y="797.0" width="53" height="3.8" fill="#32cd32"/>
<rect x="3313.7" y="802.2" width="53" height="3.8" fill="#32cd32"/>
<circle cx="3340.2" cy="801.5" r="16.9" fill="#32cd32"/>
<rect x="3349.7" y="792.4" width="53" height="7.7" fill="#32cd32"/>
<circle cx="3376.2" cy="796.2" r="16.9" fill="#32cd32"/>
<rect x="3420.3" y="791.1" width="53" height="7.7" fill="#32cd32"/>
<circle cx="3446.8" cy="795" r="16.9" fill="#32cd32"/>
<rect x="3526.0" y="782.5" width="53" height="7.7" fill="#32cd32"/>
<circle cx="3552.5" cy="786.4" r="16.9" fill="#32cd32"/>
</g>
<g shape-rendering="crispEdges">
<path d="M266.0,488.8 L408.0,488.3 L818.0,487.5 L1012.0,489.5 L1184.0,491.3 L1330.0,490.0 L1450.0,488.5 L1562.0,487.9" fill="none" stroke="#000" stroke-width="3.8" stroke-linejoin="round"/>
<path d="M1667.0,487.5 L1900.0,485.5 L2389.0,487.5 L2843.0,490.3 L3088.0,491.0 L3367.0,496.0 L3637.0,501.5" fill="none" stroke="#000" stroke-width="3.8" stroke-linejoin="round"/>
<path d="M266.0,636.7 L590.0,631.4 L900.0,627.5 L1118.0,624.8 L1382.0,624.8 L1480.0,627.0 L1562.0,629.4" fill="none" stroke="#000" stroke-width="3.8" stroke-linejoin="round"/>
<path d="M1667.0,629.5 L1900.0,628.0 L2284.0,632.9 L2690.0,637.0 L3088.0,640.6 L3637.0,646.8" fill="none" stroke="#000" stroke-width="3.8" stroke-linejoin="round"/>
<path d="M266.0,810.5 L700.0,810.0 L1029.0,810.0 L1040.0,809.6 L1188.0,809.2 L1195.0,808.0 L1287.0,807.6 L1300.0,807.3 L1564.0,807.8" fill="none" stroke="#000" stroke-width="3.8" stroke-linejoin="round"/>
<path d="M1669.0,809.4 L1833.0,809.6 L1840.0,810.3 L1903.0,810.6 L1989.0,811.3 L2062.0,812.3 L2150.0,813.3 L2205.0,814.0 L2277.0,815.2 L2350.0,816.4 L2457.0,817.5 L2604.0,818.5 L2718.0,819.3 L2990.0,820.8 L3000.0,821.5 L3272.0,821.5 L3290.0,820.8 L3431.0,820.8 L3440.0,822.0 L3515.0,822.5 L3582.0,823.8 L3630.0,824.3 L3637.0,824.3" fill="none" stroke="#000" stroke-width="3.8" stroke-linejoin="round"/>
<path d="M266.0,921.0 L333.0,921.5 L577.0,922.0 L648.0,923.0 L797.0,924.2 L1098.0,924.5 L1108.0,925.5 L1119.0,924.3 L1280.0,924.3 L1296.0,925.0 L1490.0,925.0 L1491.0,924.0 L1562.0,924.0" fill="none" stroke="#000" stroke-width="3.8" stroke-linejoin="round"/>
<path d="M1667.0,923.8 L1800.0,923.2 L1940.0,922.2 L2014.0,921.0 L2075.0,919.8 L2417.0,918.6 L2942.0,918.3 L3008.0,917.3 L3133.0,916.0 L3325.0,914.7 L3380.0,915.5 L3468.0,917.0 L3637.0,917.2" fill="none" stroke="#000" stroke-width="3.8" stroke-linejoin="round"/>
<path d="M3511.0,822.8 L3530.0,829.0 L3549.0,834.0 L3541.0,838.0 L3560.0,844.0 L3578.0,850.0 L3573.0,855.0 L3590.0,858.0 L3604.0,861.0 L3610.0,865.5 L3637.0,866.3" fill="none" stroke="#000" stroke-width="3.8" stroke-linejoin="round"/>
<path d="M3630.0,822.5 L3631.5,815.0 L3633.5,812.5 L3637.0,812.5" fill="none" stroke="#000" stroke-width="3.8" stroke-linejoin="round"/>
<path d="M1234,878.7 L1366,878.6 L1367,877.1 L1375,877.1 L1376,876.1 L1383,876.1 L1384,875 L1394,875 L1395,876.1 L1400,876.1 L1401,877.1 L1406,877.1 L1407,878.2 L1412,878.2 L1415,879.5 L1414.5,883 L1234,882.8Z" fill="#000"/>
</g>
<text x="1565.6" y="507.9" font-family="'Liberation Sans', Arial, sans-serif" font-size="58.5">230</text>
<text x="1565.6" y="650.0" font-family="'Liberation Sans', Arial, sans-serif" font-size="58.5">250</text>
<text x="1565.6" y="828.5" font-family="'Liberation Sans', Arial, sans-serif" font-size="58.5">273</text>
<text x="1565.6" y="944.9" font-family="'Liberation Sans', Arial, sans-serif" font-size="58.5">279</text>
<line x1="266.0" y1="957.00" x2="347" y2="957.00" stroke="#000" stroke-width="5.8"/>
<text x="232.4" y="981.70" text-anchor="end" font-family="'DejaVu Sans', 'Liberation Sans', sans-serif" font-size="67">0.25</text>
<line x1="266.0" y1="851.38" x2="347" y2="851.38" stroke="#000" stroke-width="5.8"/>
<text x="232.4" y="876.08" text-anchor="end" font-family="'DejaVu Sans', 'Liberation Sans', sans-serif" font-size="67">2.23</text>
<line x1="266.0" y1="745.75" x2="347" y2="745.75" stroke="#000" stroke-width="5.8"/>
<text x="232.4" y="770.45" text-anchor="end" font-family="'DejaVu Sans', 'Liberation Sans', sans-serif" font-size="67">4.21</text>
<line x1="266.0" y1="640.12" x2="347" y2="640.12" stroke="#000" stroke-width="5.8"/>
<text x="232.4" y="664.83" text-anchor="end" font-family="'DejaVu Sans', 'Liberation Sans', sans-serif" font-size="67">6.19</text>
<line x1="266.0" y1="534.50" x2="347" y2="534.50" stroke="#000" stroke-width="5.8"/>
<text x="232.4" y="559.20" text-anchor="end" font-family="'DejaVu Sans', 'Liberation Sans', sans-serif" font-size="67">8.17</text>
<line x1="266.0" y1="428.88" x2="347" y2="428.88" stroke="#000" stroke-width="5.8"/>
<text x="232.4" y="453.57" text-anchor="end" font-family="'DejaVu Sans', 'Liberation Sans', sans-serif" font-size="67">10.1</text>
<line x1="266.0" y1="323.25" x2="347" y2="323.25" stroke="#000" stroke-width="5.8"/>
<text x="232.4" y="347.95" text-anchor="end" font-family="'DejaVu Sans', 'Liberation Sans', sans-serif" font-size="67">12.1</text>
<line x1="266.0" y1="217.62" x2="347" y2="217.62" stroke="#000" stroke-width="5.8"/>
<text x="232.4" y="242.32" text-anchor="end" font-family="'DejaVu Sans', 'Liberation Sans', sans-serif" font-size="67">14.1</text>
<line x1="266.0" y1="112.00" x2="347" y2="112.00" stroke="#000" stroke-width="5.8"/>
<text x="232.4" y="136.70" text-anchor="end" font-family="'DejaVu Sans', 'Liberation Sans', sans-serif" font-size="67">16.0</text>
<line x1="266.00" y1="957.0" x2="266.00" y2="894" stroke="#000" stroke-width="5.8"/>
<text x="266.00" y="1036.1" text-anchor="middle" font-family="'DejaVu Sans', 'Liberation Sans', sans-serif" font-size="75.5">0</text>
<line x1="336.23" y1="957.0" x2="336.23" y2="924" stroke="#000" stroke-width="5.8"/>
<line x1="406.46" y1="957.0" x2="406.46" y2="924" stroke="#000" stroke-width="5.8"/>
<line x1="476.69" y1="957.0" x2="476.69" y2="924" stroke="#000" stroke-width="5.8"/>
<line x1="546.92" y1="957.0" x2="546.92" y2="894" stroke="#000" stroke-width="5.8"/>
<text x="546.92" y="1036.1" text-anchor="middle" font-family="'DejaVu Sans', 'Liberation Sans', sans-serif" font-size="75.5">2</text>
<line x1="617.15" y1="957.0" x2="617.15" y2="924" stroke="#000" stroke-width="5.8"/>
<line x1="687.38" y1="957.0" x2="687.38" y2="924" stroke="#000" stroke-width="5.8"/>
<line x1="757.60" y1="957.0" x2="757.60" y2="924" stroke="#000" stroke-width="5.8"/>
<line x1="827.83" y1="957.0" x2="827.83" y2="894" stroke="#000" stroke-width="5.8"/>
<text x="827.83" y="1036.1" text-anchor="middle" font-family="'DejaVu Sans', 'Liberation Sans', sans-serif" font-size="75.5">4</text>
<line x1="898.06" y1="957.0" x2="898.06" y2="924" stroke="#000" stroke-width="5.8"/>
<line x1="968.29" y1="957.0" x2="968.29" y2="924" stroke="#000" stroke-width="5.8"/>
<line x1="1038.52" y1="957.0" x2="1038.52" y2="924" stroke="#000" stroke-width="5.8"/>
<line x1="1108.75" y1="957.0" x2="1108.75" y2="894" stroke="#000" stroke-width="5.8"/>
<text x="1108.75" y="1036.1" text-anchor="middle" font-family="'DejaVu Sans', 'Liberation Sans', sans-serif" font-size="75.5">6</text>
<line x1="1178.98" y1="957.0" x2="1178.98" y2="924" stroke="#000" stroke-width="5.8"/>
<line x1="1249.21" y1="957.0" x2="1249.21" y2="924" stroke="#000" stroke-width="5.8"/>
<line x1="1319.44" y1="957.0" x2="1319.44" y2="924" stroke="#000" stroke-width="5.8"/>
<line x1="1389.67" y1="957.0" x2="1389.67" y2="894" stroke="#000" stroke-width="5.8"/>
<text x="1389.67" y="1036.1" text-anchor="middle" font-family="'DejaVu Sans', 'Liberation Sans', sans-serif" font-size="75.5">8</text>
<line x1="1459.90" y1="957.0" x2="1459.90" y2="924" stroke="#000" stroke-width="5.8"/>
<line x1="1530.12" y1="957.0" x2="1530.12" y2="924" stroke="#000" stroke-width="5.8"/>
<line x1="1600.35" y1="957.0" x2="1600.35" y2="924" stroke="#000" stroke-width="5.8"/>
<line x1="1670.58" y1="957.0" x2="1670.58" y2="894" stroke="#000" stroke-width="5.8"/>
<text x="1670.58" y="1036.1" text-anchor="middle" font-family="'DejaVu Sans', 'Liberation Sans', sans-serif" font-size="75.5">10</text>
<line x1="1740.81" y1="957.0" x2="1740.81" y2="924" stroke="#000" stroke-width="5.8"/>
<line x1="1811.04" y1="957.0" x2="1811.04" y2="924" stroke="#000" stroke-width="5.8"/>
<line x1="1881.27" y1="957.0" x2="1881.27" y2="924" stroke="#000" stroke-width="5.8"/>
<line x1="1951.50" y1="957.0" x2="1951.50" y2="894" stroke="#000" stroke-width="5.8"/>
<text x="1951.50" y="1036.1" text-anchor="middle" font-family="'DejaVu Sans', 'Liberation Sans', sans-serif" font-size="75.5">12</text>
<line x1="2021.73" y1="957.0" x2="2021.73" y2="924" stroke="#000" stroke-width="5.8"/>
<line x1="2091.96" y1="957.0" x2="2091.96" y2="924" stroke="#000" stroke-width="5.8"/>
<line x1="2162.19" y1="957.0" x2="2162.19" y2="924" stroke="#000" stroke-width="5.8"/>
<line x1="2232.42" y1="957.0" x2="2232.42" y2="894" stroke="#000" stroke-width="5.8"/>
<text x="2232.42" y="1036.1" text-anchor="middle" font-family="'DejaVu Sans', 'Liberation Sans', sans-serif" font-size="75.5">14</text>
<line x1="2302.65" y1="957.0" x2="2302.65" y2="924" stroke="#000" stroke-width="5.8"/>
<line x1="2372.88" y1="957.0" x2="2372.88" y2="924" stroke="#000" stroke-width="5.8"/>
<line x1="2443.10" y1="957.0" x2="2443.10" y2="924" stroke="#000" stroke-width="5.8"/>
<line x1="2513.33" y1="957.0" x2="2513.33" y2="894" stroke="#000" stroke-width="5.8"/>
<text x="2513.33" y="1036.1" text-anchor="middle" font-family="'DejaVu Sans', 'Liberation Sans', sans-serif" font-size="75.5">16</text>
<line x1="2583.56" y1="957.0" x2="2583.56" y2="924" stroke="#000" stroke-width="5.8"/>
<line x1="2653.79" y1="957.0" x2="2653.79" y2="924" stroke="#000" stroke-width="5.8"/>
<line x1="2724.02" y1="957.0" x2="2724.02" y2="924" stroke="#000" stroke-width="5.8"/>
<line x1="2794.25" y1="957.0" x2="2794.25" y2="894" stroke="#000" stroke-width="5.8"/>
<text x="2794.25" y="1036.1" text-anchor="middle" font-family="'DejaVu Sans', 'Liberation Sans', sans-serif" font-size="75.5">18</text>
<line x1="2864.48" y1="957.0" x2="2864.48" y2="924" stroke="#000" stroke-width="5.8"/>
<line x1="2934.71" y1="957.0" x2="2934.71" y2="924" stroke="#000" stroke-width="5.8"/>
<line x1="3004.94" y1="957.0" x2="3004.94" y2="924" stroke="#000" stroke-width="5.8"/>
<line x1="3075.17" y1="957.0" x2="3075.17" y2="894" stroke="#000" stroke-width="5.8"/>
<text x="3075.17" y="1036.1" text-anchor="middle" font-family="'DejaVu Sans', 'Liberation Sans', sans-serif" font-size="75.5">20</text>
<line x1="3145.40" y1="957.0" x2="3145.40" y2="924" stroke="#000" stroke-width="5.8"/>
<line x1="3215.62" y1="957.0" x2="3215.62" y2="924" stroke="#000" stroke-width="5.8"/>
<line x1="3285.85" y1="957.0" x2="3285.85" y2="924" stroke="#000" stroke-width="5.8"/>
<line x1="3356.08" y1="957.0" x2="3356.08" y2="894" stroke="#000" stroke-width="5.8"/>
<text x="3356.08" y="1036.1" text-anchor="middle" font-family="'DejaVu Sans', 'Liberation Sans', sans-serif" font-size="75.5">22</text>
<line x1="3426.31" y1="957.0" x2="3426.31" y2="924" stroke="#000" stroke-width="5.8"/>
<line x1="3496.54" y1="957.0" x2="3496.54" y2="924" stroke="#000" stroke-width="5.8"/>
<line x1="3566.77" y1="957.0" x2="3566.77" y2="924" stroke="#000" stroke-width="5.8"/>
<line x1="3637.00" y1="957.0" x2="3637.00" y2="894" stroke="#000" stroke-width="5.8"/>
<text x="3637.00" y="1036.1" text-anchor="middle" font-family="'DejaVu Sans', 'Liberation Sans', sans-serif" font-size="75.5">24</text>
<line x1="266.0" y1="957.0" x2="266.0" y2="112.0" stroke="#000" stroke-width="5.8" stroke-linecap="square"/>
<line x1="266.0" y1="957.0" x2="3637.0" y2="957.0" stroke="#000" stroke-width="5.8" stroke-linecap="square"/>
<text x="1741.1" y="1116" font-family="'DejaVu Sans', 'Liberation Sans', sans-serif" font-size="75.2">Time (UTC)</text>
<text transform="translate(35.3,834.3) rotate(-90)" font-family="'DejaVu Sans', 'Liberation Sans', sans-serif" font-size="67">Height AMSL (km)</text>
<defs><linearGradient id="cb" x1="0" y1="0" x2="1" y2="0"><stop offset="0" stop-color="#ffffff"/><stop offset="0.3333" stop-color="#ffb6c1"/><stop offset="0.6667" stop-color="#00ffff"/><stop offset="1" stop-color="#d3d3d3"/></linearGradient></defs>
<rect x="266.0" y="1144" width="3371.0" height="56" fill="url(#cb)"/>
<line x1="266.00" y1="1200" x2="266.00" y2="1183" stroke="#000" stroke-width="5.8"/>
<line x1="378.37" y1="1200" x2="378.37" y2="1190" stroke="#000" stroke-width="5.8"/>
<line x1="490.73" y1="1200" x2="490.73" y2="1190" stroke="#000" stroke-width="5.8"/>
<line x1="603.10" y1="1200" x2="603.10" y2="1190" stroke="#000" stroke-width="5.8"/>
<line x1="715.47" y1="1200" x2="715.47" y2="1190" stroke="#000" stroke-width="5.8"/>
<line x1="827.83" y1="1200" x2="827.83" y2="1190" stroke="#000" stroke-width="5.8"/>
<line x1="940.20" y1="1200" x2="940.20" y2="1190" stroke="#000" stroke-width="5.8"/>
<line x1="1052.57" y1="1200" x2="1052.57" y2="1190" stroke="#000" stroke-width="5.8"/>
<line x1="1164.93" y1="1200" x2="1164.93" y2="1190" stroke="#000" stroke-width="5.8"/>
<line x1="1277.30" y1="1200" x2="1277.30" y2="1190" stroke="#000" stroke-width="5.8"/>
<line x1="1389.67" y1="1200" x2="1389.67" y2="1183" stroke="#000" stroke-width="5.8"/>
<line x1="1502.03" y1="1200" x2="1502.03" y2="1190" stroke="#000" stroke-width="5.8"/>
<line x1="1614.40" y1="1200" x2="1614.40" y2="1190" stroke="#000" stroke-width="5.8"/>
<line x1="1726.77" y1="1200" x2="1726.77" y2="1190" stroke="#000" stroke-width="5.8"/>
<line x1="1839.13" y1="1200" x2="1839.13" y2="1190" stroke="#000" stroke-width="5.8"/>
<line x1="1951.50" y1="1200" x2="1951.50" y2="1190" stroke="#000" stroke-width="5.8"/>
<line x1="2063.87" y1="1200" x2="2063.87" y2="1190" stroke="#000" stroke-width="5.8"/>
<line x1="2176.23" y1="1200" x2="2176.23" y2="1190" stroke="#000" stroke-width="5.8"/>
<line x1="2288.60" y1="1200" x2="2288.60" y2="1190" stroke="#000" stroke-width="5.8"/>
<line x1="2400.97" y1="1200" x2="2400.97" y2="1190" stroke="#000" stroke-width="5.8"/>
<line x1="2513.33" y1="1200" x2="2513.33" y2="1183" stroke="#000" stroke-width="5.8"/>
<line x1="2625.70" y1="1200" x2="2625.70" y2="1190" stroke="#000" stroke-width="5.8"/>
<line x1="2738.07" y1="1200" x2="2738.07" y2="1190" stroke="#000" stroke-width="5.8"/>
<line x1="2850.43" y1="1200" x2="2850.43" y2="1190" stroke="#000" stroke-width="5.8"/>
<line x1="2962.80" y1="1200" x2="2962.80" y2="1190" stroke="#000" stroke-width="5.8"/>
<line x1="3075.17" y1="1200" x2="3075.17" y2="1190" stroke="#000" stroke-width="5.8"/>
<line x1="3187.53" y1="1200" x2="3187.53" y2="1190" stroke="#000" stroke-width="5.8"/>
<line x1="3299.90" y1="1200" x2="3299.90" y2="1190" stroke="#000" stroke-width="5.8"/>
<line x1="3412.27" y1="1200" x2="3412.27" y2="1190" stroke="#000" stroke-width="5.8"/>
<line x1="3524.63" y1="1200" x2="3524.63" y2="1190" stroke="#000" stroke-width="5.8"/>
<line x1="3637.00" y1="1200" x2="3637.00" y2="1183" stroke="#000" stroke-width="5.8"/>
<line x1="266.0" y1="1200" x2="3637.0" y2="1200" stroke="#000" stroke-width="5.8" stroke-linecap="square"/>
<text x="257.3" y="1262.5" text-anchor="middle" font-family="'DejaVu Sans', 'Liberation Sans', sans-serif" font-size="58.8">Clear</text>
<text x="1390.7" y="1261" text-anchor="middle" font-family="'DejaVu Sans', 'Liberation Sans', sans-serif" font-size="58.8">Water</text>
<text x="2514" y="1261" text-anchor="middle" font-family="'DejaVu Sans', 'Liberation Sans', sans-serif" font-size="58.8">Ice</text>
<text x="3637.1" y="1262" text-anchor="middle" font-family="'DejaVu Sans', 'Liberation Sans', sans-serif" font-size="58.8">Other</text>
<rect x="249" y="1313" width="651" height="248" fill="#fff" stroke="#000" stroke-width="5.8"/>
<circle cx="286.8" cy="1383.8" r="16.5" fill="#32cd32"/>
<text x="324" y="1405.7" font-family="'DejaVu Sans', 'Liberation Sans', sans-serif" font-size="58.4" style="font-kerning:normal">SEV-OCA SL Wat</text>
<path d="M271.3,1464.2L302.3,1495.2M271.3,1495.2L302.3,1464.2" stroke="#32cd32" stroke-width="5.5" fill="none"/>
<text x="324" y="1503" font-family="'DejaVu Sans', 'Liberation Sans', sans-serif" font-size="58.4" style="font-kerning:normal">OCA High Err Wat</text>
<rect x="994" y="1313" width="617.5" height="162" fill="#fff" stroke="#000" stroke-width="5.8"/>
<path d="M1016.3,1376.5L1048.3,1408.5M1016.3,1408.5L1048.3,1376.5" stroke="#0000ff" stroke-width="5.5" fill="none"/>
<text x="1069" y="1416" font-family="'DejaVu Sans', 'Liberation Sans', sans-serif" font-size="58.4" style="font-kerning:normal">OCA High Err Ice</text>
<rect x="2328.3" y="1313.4" width="559.5" height="400.5999999999999" fill="#fff" stroke="#000" stroke-width="5.8"/>
<polygon points="2365,1363.8 2347.6,1393.6 2382.4,1393.6" fill="#ff0000"/>
<polygon points="2365,1490 2347.6,1459.8 2382.4,1459.8" fill="#ff0000"/>
<path d="M2365,1536.5 L2347.7,1566.8 L2382.3,1566.8 Z M2364.8,1549 L2357.5,1560.5 L2372.1,1560.5 Z" fill="#ff0000" fill-rule="evenodd"/>
<path d="M2365,1663.2 L2347.7,1633.1 L2382.3,1633.1 Z M2364.8,1651.4 L2357.5,1639.3 L2372.3,1639.3 Z" fill="#ff0000" fill-rule="evenodd"/>
<text x="2403.5" y="1406.2" font-family="'DejaVu Sans', 'Liberation Sans', sans-serif" font-size="58.4" style="font-kerning:normal">ACTRIS CBH</text>
<text x="2403.5" y="1492.3" font-family="'DejaVu Sans', 'Liberation Sans', sans-serif" font-size="58.4" style="font-kerning:normal">ACTRIS CTH</text>
<text x="2403.5" y="1578.7" font-family="'DejaVu Sans', 'Liberation Sans', sans-serif" font-size="58.4" style="font-kerning:normal">ACTRIS CBH BL</text>
<text x="2403.5" y="1665.1" font-family="'DejaVu Sans', 'Liberation Sans', sans-serif" font-size="58.4" style="font-kerning:normal">ACTRIS CTH BL</text>
</svg>
</body></html>
